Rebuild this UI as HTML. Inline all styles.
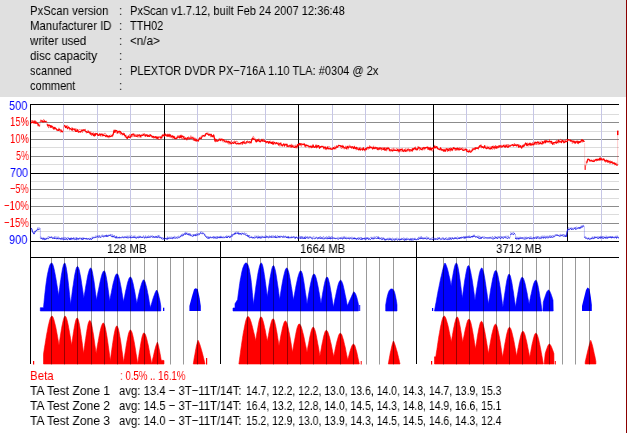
<!DOCTYPE html>
<html><head><meta charset="utf-8"><title>PxScan</title>
<style>
html,body{margin:0;padding:0;background:#fff}
body{width:627px;height:433px;position:relative;overflow:hidden;font-family:"Liberation Sans",sans-serif}
.hdr{position:absolute;left:0;top:0;width:627px;height:97px;background:#e0e0e0}
.edge{position:absolute;left:626px;top:0;width:1px;height:433px;background:#8b0000}
.t{position:absolute;white-space:pre;will-change:transform}
</style></head><body>
<div class="hdr"></div>
<svg width="627" height="433" viewBox="0 0 627 433" style="position:absolute;left:0;top:0" shape-rendering="auto"><rect x="30" y="114" width="589" height="1" fill="#dcdcdc"/>
<rect x="30" y="122" width="589" height="1" fill="#8c8c8c"/>
<rect x="30" y="131" width="589" height="1" fill="#dcdcdc"/>
<rect x="30" y="139" width="589" height="1" fill="#8c8c8c"/>
<rect x="30" y="147" width="589" height="1" fill="#dcdcdc"/>
<rect x="30" y="156" width="589" height="1" fill="#8c8c8c"/>
<rect x="30" y="164" width="589" height="1" fill="#dcdcdc"/>
<rect x="30" y="181" width="589" height="1" fill="#dcdcdc"/>
<rect x="30" y="189" width="589" height="1" fill="#8c8c8c"/>
<rect x="30" y="198" width="589" height="1" fill="#dcdcdc"/>
<rect x="30" y="206" width="589" height="1" fill="#8c8c8c"/>
<rect x="30" y="214" width="589" height="1" fill="#dcdcdc"/>
<rect x="30" y="223" width="589" height="1" fill="#8c8c8c"/>
<rect x="30" y="231" width="589" height="1" fill="#dcdcdc"/>
<rect x="63" y="105" width="1" height="136" fill="#c6c6e6"/>
<rect x="97" y="105" width="1" height="136" fill="#c6c6e6"/>
<rect x="130" y="105" width="1" height="136" fill="#c6c6e6"/>
<rect x="197" y="105" width="1" height="136" fill="#c6c6e6"/>
<rect x="231" y="105" width="1" height="136" fill="#c6c6e6"/>
<rect x="265" y="105" width="1" height="136" fill="#c6c6e6"/>
<rect x="332" y="105" width="1" height="136" fill="#c6c6e6"/>
<rect x="365" y="105" width="1" height="136" fill="#c6c6e6"/>
<rect x="399" y="105" width="1" height="136" fill="#c6c6e6"/>
<rect x="466" y="105" width="1" height="136" fill="#c6c6e6"/>
<rect x="500" y="105" width="1" height="136" fill="#c6c6e6"/>
<rect x="533" y="105" width="1" height="136" fill="#c6c6e6"/>
<rect x="601" y="105" width="1" height="136" fill="#c6c6e6"/>
<rect x="30" y="104" width="589" height="1" fill="#000"/>
<rect x="30" y="173" width="589" height="1" fill="#000"/>
<rect x="30" y="241" width="589" height="1" fill="#000"/>
<rect x="30" y="257" width="589" height="1" fill="#000"/>
<rect x="164" y="104" width="1" height="138" fill="#000"/>
<rect x="298" y="104" width="1" height="138" fill="#000"/>
<rect x="433" y="104" width="1" height="138" fill="#000"/>
<rect x="567" y="104" width="1" height="138" fill="#000"/>
<rect x="30" y="104" width="1" height="260" fill="#000"/>
<rect x="220" y="241" width="1" height="123" fill="#000"/>
<rect x="416" y="241" width="1" height="123" fill="#000"/>
<path fill="#0000ff" stroke="#0000ff" stroke-width="0.6" stroke-linejoin="round" d="M40.3,311.0 L40.3,307.7 L43.5,307.7 L44.0,302.3 L44.5,297.2 L45.0,292.5 L45.5,288.1 L46.0,284.1 L46.5,280.5 L47.0,277.1 L47.5,274.2 L48.1,271.6 L48.6,269.3 L49.1,267.4 L49.6,265.8 L50.1,264.6 L50.6,263.7 L51.1,263.2 L51.6,263.0 L52.1,263.3 L52.6,264.1 L53.1,265.3 L53.6,267.0 L54.1,269.1 L54.6,271.4 L55.1,274.0 L55.6,276.7 L56.1,279.6 L56.6,282.7 L57.1,285.8 L57.6,289.0 L58.1,292.3 L58.6,295.7 L59.1,291.4 L59.7,287.3 L60.2,283.2 L60.8,279.4 L61.3,275.7 L61.9,272.3 L62.4,269.3 L63.0,266.7 L63.5,264.7 L64.1,263.4 L64.6,263.0 L65.1,263.5 L65.6,264.8 L66.1,267.0 L66.6,269.8 L67.1,273.1 L67.6,276.9 L68.1,281.0 L68.6,285.4 L69.1,290.0 L69.6,294.7 L70.1,299.5 L70.6,304.5 L71.1,300.3 L71.7,296.2 L72.2,292.1 L72.7,288.2 L73.3,284.5 L73.8,280.9 L74.3,277.5 L74.8,274.5 L75.4,271.8 L75.9,269.5 L76.4,267.8 L77.0,266.8 L77.5,266.4 L78.0,266.8 L78.5,267.8 L79.1,269.4 L79.6,271.6 L80.1,274.2 L80.7,277.1 L81.2,280.2 L81.7,283.6 L82.2,287.1 L82.8,290.8 L83.3,294.5 L83.8,298.3 L84.3,295.0 L84.9,291.7 L85.4,288.5 L85.9,285.4 L86.5,282.4 L87.0,279.5 L87.5,276.8 L88.0,274.4 L88.6,272.3 L89.1,270.5 L89.6,269.1 L90.2,268.3 L90.7,268.0 L91.2,268.4 L91.8,269.7 L92.3,271.6 L92.8,274.2 L93.3,277.2 L93.9,280.5 L94.4,284.1 L94.9,287.9 L95.4,291.9 L96.0,296.0 L96.5,300.2 L97.0,297.4 L97.5,294.6 L98.0,291.9 L98.6,289.2 L99.1,286.7 L99.6,284.2 L100.1,281.8 L100.6,279.6 L101.1,277.5 L101.6,275.6 L102.1,274.0 L102.7,272.6 L103.2,271.6 L103.7,271.0 L104.2,270.8 L104.7,271.2 L105.2,272.4 L105.7,274.2 L106.2,276.6 L106.7,279.4 L107.2,282.5 L107.7,285.9 L108.2,289.4 L108.7,293.1 L109.2,297.0 L109.7,300.9 L110.2,298.1 L110.7,295.4 L111.3,292.7 L111.8,290.1 L112.3,287.5 L112.8,285.1 L113.3,282.8 L113.9,280.7 L114.4,278.7 L114.9,277.0 L115.4,275.6 L116.0,274.6 L116.5,273.9 L117.0,273.7 L117.5,274.0 L118.0,274.8 L118.5,276.0 L119.0,277.7 L119.5,279.6 L120.0,281.9 L120.5,284.4 L121.0,287.0 L121.5,289.8 L122.0,292.7 L122.5,295.7 L123.0,298.7 L123.5,301.8 L124.0,299.1 L124.6,296.4 L125.1,293.8 L125.6,291.2 L126.2,288.8 L126.7,286.4 L127.2,284.2 L127.7,282.2 L128.3,280.5 L128.8,279.0 L129.3,277.9 L129.9,277.2 L130.4,277.0 L130.9,277.3 L131.5,278.2 L132.0,279.5 L132.5,281.3 L133.1,283.5 L133.6,285.9 L134.1,288.5 L134.7,291.3 L135.2,294.2 L135.7,297.2 L136.3,300.3 L136.8,303.5 L137.3,301.1 L137.8,298.7 L138.3,296.3 L138.8,294.1 L139.3,291.9 L139.8,289.7 L140.4,287.7 L140.9,285.9 L141.4,284.2 L141.9,282.7 L142.4,281.5 L142.9,280.6 L143.4,280.0 L143.9,279.8 L144.4,280.5 L145.0,281.7 L145.5,283.3 L146.0,285.2 L146.6,287.4 L147.1,289.8 L147.6,292.4 L148.2,295.2 L148.7,298.1 L149.2,301.3 L149.8,304.5 L150.3,308.0 L150.8,306.1 L151.4,304.2 L151.9,302.4 L152.4,300.7 L152.9,299.0 L153.4,297.4 L154.0,295.8 L154.5,294.4 L155.0,293.1 L155.6,291.8 L156.1,290.8 L156.6,290.1 L157.1,290.7 L157.7,291.8 L158.2,293.4 L158.7,295.3 L159.2,297.6 L159.8,300.1 L160.3,302.9 L160.8,306.0 L160.8,311.0 Z"/>
<rect x="163" y="307.7" width="1.3" height="3.3" fill="#0000ff"/>
<path fill="#0000ff" d="M189.4,311 L189.4,306 L192.1,296 L194.1,289.2 L195.5,288.3 L197.7,289 L199.6,298 L200.8,306 L200.8,311 Z"/>
<rect x="33" y="361" width="1.2" height="3.5" fill="#ff0000"/>
<path fill="#ff0000" stroke="#ff0000" stroke-width="0.6" stroke-linejoin="round" d="M43.5,364.0 L43.5,354.2 L44.0,350.8 L44.5,347.4 L45.1,344.1 L45.6,340.8 L46.1,337.7 L46.6,334.6 L47.2,331.7 L47.7,328.9 L48.2,326.2 L48.8,323.8 L49.3,321.6 L49.8,319.7 L50.3,318.2 L50.9,317.0 L51.4,316.3 L51.9,316.1 L52.4,316.3 L52.9,317.0 L53.4,318.2 L53.9,319.7 L54.4,321.5 L54.9,323.6 L55.5,325.9 L56.0,328.3 L56.5,330.9 L57.0,333.6 L57.5,336.4 L58.0,339.3 L58.5,342.2 L59.0,345.2 L59.5,341.7 L60.0,338.3 L60.5,335.0 L61.0,331.8 L61.5,328.7 L62.0,325.9 L62.6,323.2 L63.1,320.9 L63.6,318.9 L64.1,317.4 L64.6,316.4 L65.1,316.1 L65.6,316.4 L66.1,317.2 L66.6,318.5 L67.1,320.2 L67.6,322.3 L68.1,324.6 L68.6,327.2 L69.1,329.9 L69.6,332.8 L70.1,335.8 L70.6,338.8 L71.1,342.0 L71.6,345.2 L72.1,341.7 L72.6,338.2 L73.1,334.8 L73.6,331.6 L74.1,328.6 L74.6,325.7 L75.1,323.2 L75.6,321.1 L76.1,319.4 L76.6,318.4 L77.1,318.0 L77.6,318.3 L78.1,319.3 L78.6,320.9 L79.1,323.0 L79.6,325.5 L80.1,328.4 L80.6,331.5 L81.1,334.9 L81.6,338.4 L82.1,342.0 L82.6,345.8 L83.1,349.7 L83.6,353.6 L84.1,349.6 L84.6,345.7 L85.1,342.0 L85.7,338.3 L86.2,334.8 L86.7,331.5 L87.2,328.5 L87.7,325.8 L88.2,323.6 L88.8,321.9 L89.3,320.8 L89.8,320.4 L90.3,320.8 L90.8,321.9 L91.4,323.6 L91.9,325.8 L92.4,328.5 L92.9,331.5 L93.5,334.8 L94.0,338.3 L94.5,342.0 L95.0,345.7 L95.6,349.6 L96.1,353.6 L96.6,350.5 L97.1,347.4 L97.6,344.4 L98.2,341.4 L98.7,338.6 L99.2,335.8 L99.7,333.3 L100.2,330.8 L100.7,328.7 L101.2,326.8 L101.8,325.2 L102.3,324.0 L102.8,323.3 L103.3,323.0 L103.8,323.3 L104.3,324.2 L104.8,325.7 L105.3,327.6 L105.8,330.0 L106.3,332.7 L106.8,335.6 L107.3,338.8 L107.8,342.2 L108.3,345.7 L108.8,349.3 L109.3,353.0 L109.8,356.8 L110.3,360.7 L110.8,356.9 L111.3,353.1 L111.8,349.4 L112.3,345.9 L112.8,342.4 L113.3,339.2 L113.8,336.1 L114.3,333.3 L114.8,330.9 L115.3,328.8 L115.8,327.3 L116.3,326.3 L116.8,326.0 L117.3,326.3 L117.8,327.4 L118.4,329.0 L118.9,331.2 L119.4,333.7 L119.9,336.7 L120.5,339.9 L121.0,343.3 L121.5,347.0 L122.0,350.7 L122.6,354.6 L123.1,358.6 L123.6,362.6 L124.1,359.0 L124.6,355.5 L125.2,352.0 L125.7,348.7 L126.2,345.5 L126.7,342.4 L127.3,339.5 L127.8,336.9 L128.3,334.6 L128.8,332.7 L129.4,331.2 L129.9,330.3 L130.4,330.0 L130.9,330.3 L131.4,331.1 L132.0,332.4 L132.5,334.2 L133.0,336.3 L133.5,338.7 L134.1,341.4 L134.6,344.3 L135.1,347.3 L135.6,350.5 L136.1,353.7 L136.7,357.1 L137.2,360.5 L137.7,364.0 L138.2,360.3 L138.7,356.6 L139.2,353.1 L139.8,349.7 L140.3,346.4 L140.8,343.3 L141.3,340.5 L141.8,338.0 L142.3,335.9 L142.9,334.3 L143.4,333.2 L143.9,332.9 L144.4,333.1 L144.9,333.8 L145.5,334.8 L146.0,336.3 L146.5,338.0 L147.0,340.0 L147.5,342.2 L148.1,344.5 L148.6,347.0 L149.1,349.7 L149.6,352.4 L150.1,355.2 L150.7,358.1 L151.2,361.0 L151.7,364.0 L152.2,361.5 L152.7,359.0 L153.3,356.6 L153.8,354.3 L154.3,352.1 L154.8,350.0 L155.3,348.1 L155.8,346.2 L156.4,344.6 L156.9,343.2 L157.4,342.2 L157.9,343.6 L158.5,345.7 L159.0,348.2 L159.6,350.9 L160.1,353.8 L160.7,356.9 L161.2,360.2 L164.0,360.5 L164.0,364.0 Z"/>
<path fill="#ff0000" stroke="#ff0000" stroke-width="0.6" stroke-linejoin="round" d="M193.3,364.0 L193.3,364.0 L193.8,360.6 L194.3,357.4 L194.9,354.3 L195.4,351.3 L195.9,348.6 L196.4,346.0 L197.0,343.7 L197.5,341.7 L198.0,340.3 L198.5,341.1 L199.0,342.2 L199.5,343.5 L200.0,345.0 L200.5,346.5 L201.0,348.2 L201.5,349.9 L202.0,351.7 L202.5,353.6 L203.0,355.6 L203.5,357.6 L204.0,359.7 L204.5,361.8 L205.0,364.0 L205.0,364.0 Z"/>
<rect x="206" y="358" width="1.2" height="6.5" fill="#ff0000"/>
<path fill="#0000ff" stroke="#0000ff" stroke-width="0.6" stroke-linejoin="round" d="M233.0,311.0 L233.0,308.0 L235.0,308.0 L235.0,303.8 L237.6,299.6 L238.1,295.2 L238.7,291.0 L239.2,287.2 L239.7,283.6 L240.2,280.3 L240.8,277.3 L241.3,274.6 L241.8,272.1 L242.3,270.0 L242.8,268.1 L243.4,266.6 L243.9,265.3 L244.4,264.3 L244.9,263.6 L245.5,263.1 L246.0,263.0 L246.5,263.1 L247.1,263.5 L247.6,264.2 L248.1,265.3 L248.6,266.9 L249.2,268.9 L249.7,271.5 L250.2,274.5 L250.8,278.1 L251.3,282.2 L251.8,286.9 L252.3,292.3 L252.9,298.2 L253.4,304.7 L253.9,300.7 L254.5,296.8 L255.0,292.9 L255.5,289.2 L256.0,285.5 L256.6,282.0 L257.1,278.6 L257.6,275.4 L258.1,272.5 L258.7,269.8 L259.2,267.5 L259.7,265.6 L260.2,264.2 L260.8,263.3 L261.3,263.0 L261.8,263.4 L262.3,264.5 L262.8,266.2 L263.3,268.6 L263.8,271.3 L264.3,274.4 L264.8,277.8 L265.3,281.3 L265.8,285.1 L266.3,289.0 L266.8,292.9 L267.3,297.0 L267.8,293.2 L268.3,289.6 L268.8,286.0 L269.3,282.5 L269.8,279.2 L270.4,276.1 L270.9,273.3 L271.4,270.7 L271.9,268.6 L272.4,267.0 L272.9,266.0 L273.4,265.6 L273.9,266.0 L274.4,267.1 L274.9,268.8 L275.5,271.2 L276.0,273.9 L276.5,277.0 L277.0,280.4 L277.5,283.9 L278.1,287.7 L278.6,291.6 L279.1,295.5 L279.6,299.6 L280.1,296.4 L280.6,293.2 L281.1,290.1 L281.6,287.0 L282.1,284.1 L282.6,281.3 L283.1,278.6 L283.7,276.1 L284.2,273.9 L284.7,271.9 L285.2,270.2 L285.7,269.0 L286.2,268.3 L286.7,268.0 L287.2,268.3 L287.7,269.2 L288.2,270.6 L288.8,272.5 L289.3,274.8 L289.8,277.4 L290.3,280.2 L290.8,283.3 L291.3,286.4 L291.9,289.7 L292.4,293.2 L292.9,296.6 L293.4,300.2 L293.9,297.2 L294.5,294.2 L295.0,291.3 L295.5,288.5 L296.0,285.8 L296.6,283.1 L297.1,280.7 L297.6,278.3 L298.2,276.2 L298.7,274.4 L299.2,272.9 L299.7,271.8 L300.3,271.0 L300.8,270.8 L301.3,271.2 L301.8,272.3 L302.4,274.0 L302.9,276.2 L303.4,278.9 L303.9,281.9 L304.4,285.2 L304.9,288.7 L305.4,292.4 L306.0,296.1 L306.5,300.0 L307.0,304.0 L307.5,300.9 L308.0,297.9 L308.5,294.9 L309.0,292.1 L309.5,289.3 L310.0,286.6 L310.5,284.1 L311.0,281.7 L311.5,279.6 L312.0,277.7 L312.5,276.1 L313.0,275.0 L313.5,274.2 L314.0,274.0 L314.5,274.2 L315.0,275.0 L315.5,276.1 L316.0,277.6 L316.5,279.4 L317.0,281.5 L317.5,283.9 L318.0,286.3 L318.5,289.0 L319.0,291.7 L319.5,294.5 L320.0,297.4 L320.5,300.4 L321.0,303.4 L321.5,300.2 L322.0,297.2 L322.5,294.1 L323.0,291.2 L323.5,288.5 L324.0,285.8 L324.5,283.4 L325.0,281.3 L325.5,279.5 L326.0,278.2 L326.5,277.3 L327.0,277.0 L327.5,277.3 L328.1,278.3 L328.6,279.9 L329.1,281.9 L329.7,284.4 L330.2,287.2 L330.7,290.2 L331.3,293.3 L331.8,296.7 L332.3,300.1 L332.9,303.7 L333.4,307.3 L333.9,304.5 L334.4,301.8 L334.9,299.1 L335.5,296.5 L336.0,294.0 L336.5,291.6 L337.0,289.3 L337.5,287.2 L338.0,285.2 L338.5,283.5 L339.1,282.1 L339.6,281.1 L340.1,280.4 L340.6,280.2 L341.1,280.4 L341.6,281.2 L342.1,282.3 L342.7,283.8 L343.2,285.6 L343.7,287.7 L344.2,289.9 L344.7,292.3 L345.2,294.9 L345.8,297.5 L346.3,300.2 L346.8,303.0 L347.3,305.8 L347.8,304.6 L348.4,303.5 L348.9,302.3 L349.4,301.1 L349.9,300.0 L350.5,298.8 L351.0,297.6 L351.5,296.5 L352.0,295.3 L352.6,294.1 L353.1,293.0 L353.6,291.8 L354.1,292.0 L354.7,292.5 L355.2,293.3 L355.8,294.4 L356.3,295.9 L356.9,297.7 L357.4,299.8 L358.0,302.2 L358.5,305.0 L358.5,311.0 Z"/>
<rect x="359.2" y="305" width="1" height="6" fill="#0000ff"/>
<path fill="#0000ff" stroke="#0000ff" stroke-width="0.6" stroke-linejoin="round" d="M385.7,311.0 L385.7,305.0 L386.2,301.9 L386.7,299.1 L387.2,296.7 L387.7,294.7 L388.2,293.1 L388.7,291.7 L389.2,290.7 L389.7,289.9 L390.2,289.4 L390.7,289.1 L391.2,288.9 L391.7,288.9 L392.2,289.0 L392.8,289.2 L393.3,289.7 L393.8,290.5 L394.4,291.7 L394.9,293.4 L395.4,295.5 L395.9,298.1 L396.5,301.3 L397.0,305.0 L397.0,311.0 Z"/>
<path fill="#ff0000" stroke="#ff0000" stroke-width="0.6" stroke-linejoin="round" d="M238.9,364.0 L238.9,364.0 L239.4,360.2 L239.9,356.5 L240.4,352.8 L240.9,349.1 L241.4,345.6 L241.9,342.1 L242.4,338.8 L242.9,335.5 L243.4,332.4 L244.0,329.5 L244.5,326.8 L245.0,324.3 L245.5,322.0 L246.0,320.1 L246.5,318.6 L247.0,317.4 L247.5,316.7 L248.0,316.5 L248.5,316.7 L249.0,317.2 L249.5,318.0 L250.1,319.1 L250.6,320.5 L251.1,322.0 L251.6,323.7 L252.1,325.5 L252.6,327.5 L253.1,329.6 L253.6,331.7 L254.2,333.9 L254.7,336.1 L255.2,338.4 L255.7,340.7 L256.2,337.3 L256.7,333.9 L257.3,330.7 L257.8,327.7 L258.3,324.8 L258.8,322.2 L259.3,320.0 L259.9,318.3 L260.4,317.2 L260.9,316.8 L261.4,317.1 L262.0,317.9 L262.5,319.1 L263.0,320.8 L263.6,322.8 L264.1,325.0 L264.6,327.4 L265.2,330.0 L265.7,332.7 L266.2,335.5 L266.8,338.4 L267.3,341.3 L267.8,338.4 L268.4,335.5 L268.9,332.7 L269.4,330.0 L269.9,327.5 L270.5,325.1 L271.0,323.0 L271.5,321.2 L272.0,319.9 L272.6,319.0 L273.1,318.7 L273.6,319.1 L274.2,320.1 L274.7,321.7 L275.2,323.9 L275.8,326.4 L276.3,329.2 L276.9,332.3 L277.4,335.5 L277.9,338.8 L278.5,342.3 L279.0,345.8 L279.5,342.8 L280.1,339.9 L280.6,337.1 L281.1,334.3 L281.7,331.7 L282.2,329.2 L282.7,327.0 L283.3,325.0 L283.8,323.3 L284.3,322.0 L284.9,321.2 L285.4,320.9 L285.9,321.2 L286.4,321.9 L286.9,323.1 L287.4,324.8 L287.9,326.7 L288.4,329.0 L288.9,331.4 L289.5,334.1 L290.0,336.9 L290.5,339.8 L291.0,342.8 L291.5,345.9 L292.0,349.1 L292.5,352.3 L293.0,349.2 L293.5,346.1 L294.0,343.1 L294.6,340.2 L295.1,337.4 L295.6,334.7 L296.1,332.2 L296.6,329.9 L297.1,327.9 L297.7,326.2 L298.2,325.0 L298.7,324.2 L299.2,323.9 L299.7,324.1 L300.2,324.7 L300.8,325.7 L301.3,327.0 L301.8,328.5 L302.3,330.3 L302.8,332.4 L303.4,334.5 L303.9,336.8 L304.4,339.2 L304.9,341.7 L305.4,344.3 L306.0,346.9 L306.5,349.6 L307.0,352.3 L307.5,349.3 L308.0,346.3 L308.6,343.5 L309.1,340.7 L309.6,338.0 L310.1,335.5 L310.6,333.3 L311.1,331.2 L311.6,329.5 L312.2,328.2 L312.7,327.4 L313.2,327.1 L313.7,327.4 L314.2,328.2 L314.7,329.5 L315.3,331.2 L315.8,333.3 L316.3,335.6 L316.8,338.2 L317.3,340.9 L317.8,343.8 L318.4,346.8 L318.9,349.8 L319.4,353.0 L319.9,356.2 L320.4,353.1 L321.0,350.1 L321.5,347.1 L322.0,344.3 L322.6,341.5 L323.1,339.0 L323.6,336.6 L324.2,334.5 L324.7,332.8 L325.2,331.4 L325.8,330.6 L326.3,330.3 L326.8,330.5 L327.4,331.2 L327.9,332.2 L328.4,333.6 L328.9,335.2 L329.5,337.1 L330.0,339.2 L330.5,341.4 L331.1,343.8 L331.6,346.2 L332.1,348.8 L332.6,351.4 L333.2,354.1 L333.7,356.8 L334.2,354.2 L334.7,351.6 L335.2,349.1 L335.7,346.7 L336.2,344.4 L336.7,342.2 L337.3,340.1 L337.8,338.2 L338.3,336.5 L338.8,335.1 L339.3,334.1 L339.8,333.4 L340.3,333.2 L340.8,333.4 L341.4,334.1 L341.9,335.1 L342.4,336.5 L342.9,338.2 L343.5,340.1 L344.0,342.2 L344.5,344.4 L345.1,346.8 L345.6,349.3 L346.1,351.9 L346.6,354.5 L347.2,357.3 L347.7,360.0 L348.2,357.9 L348.8,355.9 L349.3,353.9 L349.8,352.1 L350.3,350.3 L350.9,348.6 L351.4,347.1 L351.9,345.9 L352.4,344.9 L353.0,344.3 L353.5,344.1 L354.0,344.4 L354.6,345.1 L355.1,346.3 L355.6,347.9 L356.1,349.8 L356.7,351.8 L357.2,354.1 L357.7,356.4 L358.2,358.9 L358.8,361.4 L359.3,364.0 L359.3,364.0 Z"/>
<rect x="360.7" y="361" width="1" height="3.5" fill="#ff0000"/>
<path fill="#ff0000" stroke="#ff0000" stroke-width="0.6" stroke-linejoin="round" d="M388.3,364.0 L388.3,364.0 L388.8,361.1 L389.3,358.2 L389.8,355.5 L390.3,352.8 L390.9,350.3 L391.4,348.0 L391.9,345.8 L392.4,343.8 L392.9,342.2 L393.4,341.0 L393.9,341.8 L394.4,343.0 L394.9,344.4 L395.4,346.0 L395.9,347.6 L396.4,349.4 L397.0,351.3 L397.5,353.2 L398.0,355.3 L398.5,357.4 L399.0,359.5 L399.5,361.7 L400.0,364.0 L400.0,364.0 Z"/>
<rect x="432" y="308" width="1.2" height="3" fill="#0000ff"/>
<path fill="#0000ff" stroke="#0000ff" stroke-width="0.6" stroke-linejoin="round" d="M434.5,311.0 L434.5,311.0 L435.0,308.0 L435.5,305.1 L436.1,302.2 L436.6,299.3 L437.1,296.5 L437.6,293.7 L438.1,291.0 L438.7,288.3 L439.2,285.7 L439.7,283.2 L440.2,280.7 L440.7,278.3 L441.3,275.9 L441.8,273.7 L442.3,271.5 L442.8,269.4 L443.3,267.5 L443.9,265.7 L444.4,264.1 L444.9,263.0 L445.4,263.5 L445.9,264.5 L446.4,265.8 L447.0,267.4 L447.5,269.1 L448.0,271.0 L448.5,273.1 L449.0,275.4 L449.6,277.7 L450.1,280.3 L450.6,282.9 L451.1,285.7 L451.6,282.5 L452.1,279.3 L452.7,276.2 L453.2,273.3 L453.7,270.6 L454.2,268.2 L454.7,266.1 L455.3,264.4 L455.8,263.4 L456.3,263.0 L456.8,263.4 L457.3,264.5 L457.8,266.4 L458.3,268.8 L458.8,271.6 L459.3,274.8 L459.8,278.3 L460.3,282.0 L460.8,285.9 L461.3,289.9 L461.8,294.1 L462.3,298.3 L462.8,294.4 L463.3,290.6 L463.8,286.8 L464.3,283.2 L464.8,279.8 L465.4,276.6 L465.9,273.6 L466.4,270.9 L466.9,268.7 L467.4,267.0 L467.9,266.0 L468.4,265.6 L468.9,265.9 L469.4,266.9 L469.9,268.4 L470.4,270.5 L470.9,272.9 L471.4,275.7 L472.0,278.7 L472.5,282.0 L473.0,285.4 L473.5,289.0 L474.0,292.6 L474.5,296.4 L475.0,300.2 L475.5,296.6 L476.0,293.2 L476.5,289.7 L477.1,286.4 L477.6,283.3 L478.1,280.2 L478.6,277.4 L479.1,274.8 L479.6,272.5 L480.2,270.6 L480.7,269.2 L481.2,268.3 L481.7,268.0 L482.2,268.3 L482.7,269.4 L483.2,271.0 L483.8,273.1 L484.3,275.6 L484.8,278.5 L485.3,281.7 L485.8,285.1 L486.3,288.7 L486.9,292.4 L487.4,296.2 L487.9,300.1 L488.4,304.1 L488.9,300.7 L489.5,297.3 L490.0,293.9 L490.5,290.7 L491.0,287.6 L491.6,284.6 L492.1,281.8 L492.6,279.1 L493.2,276.7 L493.7,274.6 L494.2,272.9 L494.7,271.6 L495.3,270.8 L495.8,270.5 L496.3,270.8 L496.8,271.7 L497.3,273.1 L497.8,275.0 L498.3,277.3 L498.8,279.9 L499.4,282.8 L499.9,285.9 L500.4,289.2 L500.9,292.6 L501.4,296.2 L501.9,299.8 L502.4,303.5 L502.9,307.3 L503.4,303.3 L503.9,299.4 L504.4,295.7 L505.0,292.0 L505.5,288.5 L506.0,285.2 L506.5,282.2 L507.0,279.5 L507.6,277.3 L508.1,275.6 L508.6,274.5 L509.1,274.1 L509.6,274.5 L510.2,275.6 L510.7,277.3 L511.2,279.5 L511.8,282.2 L512.3,285.2 L512.8,288.5 L513.4,292.0 L513.9,295.7 L514.4,299.4 L515.0,303.3 L515.5,307.3 L516.0,304.0 L516.5,300.7 L517.0,297.5 L517.6,294.4 L518.1,291.5 L518.6,288.6 L519.1,286.0 L519.6,283.6 L520.1,281.4 L520.7,279.7 L521.2,278.3 L521.7,277.5 L522.2,277.2 L522.7,277.5 L523.3,278.2 L523.8,279.4 L524.3,281.0 L524.9,282.9 L525.4,285.1 L525.9,287.4 L526.4,289.9 L527.0,292.6 L527.5,295.4 L528.0,298.2 L528.6,301.1 L529.1,304.1 L529.6,301.5 L530.1,298.9 L530.6,296.3 L531.2,293.9 L531.7,291.5 L532.2,289.3 L532.7,287.2 L533.2,285.3 L533.7,283.6 L534.3,282.2 L534.8,281.1 L535.3,280.4 L535.8,280.2 L536.3,280.5 L536.8,281.5 L537.3,283.1 L537.9,285.2 L538.4,287.7 L538.9,290.5 L539.4,293.6 L539.9,296.8 L540.5,300.2 L541.0,303.7 L541.5,307.3 L542.0,311.0 L542.0,311.0 Z"/>
<path fill="#0000ff" stroke="#0000ff" stroke-width="0.6" stroke-linejoin="round" d="M542.9,311.0 L542.9,311.0 L543.3,302.2 L543.8,300.5 L544.3,298.8 L544.9,297.2 L545.4,295.6 L545.9,294.2 L546.4,292.8 L546.9,291.7 L547.5,290.9 L548.0,290.3 L548.5,290.1 L549.0,290.3 L549.5,290.9 L550.0,291.7 L550.5,292.9 L551.0,294.1 L551.5,295.5 L552.0,297.0 L552.5,298.6 L553.0,300.2 L553.2,311.0 L553.2,311.0 Z"/>
<path fill="#0000ff" d="M582,311 L582,306 L584,298 L586,290 L587.5,287.5 L589.5,289 L590.8,297 L591.8,305 L591.8,311 Z"/>
<rect x="431" y="361" width="1.2" height="3.5" fill="#ff0000"/>
<path fill="#ff0000" stroke="#ff0000" stroke-width="0.6" stroke-linejoin="round" d="M434.5,364.0 L434.5,356.8 L435.8,356.8 L436.3,353.1 L436.9,349.5 L437.4,346.0 L437.9,342.5 L438.4,339.2 L438.9,335.9 L439.5,332.7 L440.0,329.7 L440.5,326.9 L441.1,324.3 L441.6,322.0 L442.1,320.0 L442.6,318.3 L443.1,317.1 L443.7,316.4 L444.2,316.1 L444.7,316.3 L445.2,316.9 L445.7,317.9 L446.2,319.3 L446.7,320.9 L447.2,322.7 L447.8,324.8 L448.3,327.0 L448.8,329.3 L449.3,331.7 L449.8,334.2 L450.3,336.7 L450.8,339.3 L451.3,342.0 L451.8,338.7 L452.4,335.6 L452.9,332.5 L453.4,329.5 L454.0,326.7 L454.5,324.1 L455.1,321.8 L455.6,319.8 L456.1,318.3 L456.7,317.3 L457.2,317.0 L457.7,317.3 L458.2,318.3 L458.7,319.8 L459.2,321.8 L459.7,324.2 L460.2,326.8 L460.7,329.7 L461.2,332.7 L461.7,335.8 L462.2,339.0 L462.7,342.3 L463.2,339.5 L463.8,336.8 L464.3,334.2 L464.8,331.6 L465.3,329.2 L465.9,326.9 L466.4,324.8 L466.9,322.9 L467.4,321.3 L467.9,320.1 L468.5,319.4 L469.0,319.1 L469.5,319.4 L470.0,320.2 L470.5,321.6 L471.0,323.3 L471.5,325.4 L472.0,327.8 L472.5,330.5 L473.0,333.3 L473.5,336.2 L474.0,339.3 L474.5,342.5 L475.0,345.7 L475.5,349.0 L476.0,345.4 L476.6,341.9 L477.1,338.4 L477.6,335.2 L478.2,332.1 L478.7,329.2 L479.3,326.6 L479.8,324.4 L480.3,322.7 L480.9,321.7 L481.4,321.3 L481.9,321.6 L482.4,322.3 L482.9,323.6 L483.4,325.3 L483.9,327.3 L484.4,329.6 L484.9,332.1 L485.4,334.9 L485.9,337.7 L486.4,340.7 L486.9,343.8 L487.4,347.0 L487.9,350.3 L488.4,353.6 L488.9,350.6 L489.4,347.6 L489.9,344.7 L490.4,341.9 L490.9,339.2 L491.4,336.5 L491.9,334.1 L492.5,331.7 L493.0,329.6 L493.5,327.8 L494.0,326.3 L494.5,325.2 L495.0,324.4 L495.5,324.2 L496.0,324.5 L496.5,325.3 L497.0,326.6 L497.5,328.3 L498.0,330.4 L498.5,332.7 L499.1,335.4 L499.6,338.2 L500.1,341.1 L500.6,344.2 L501.1,347.4 L501.6,350.7 L502.1,354.1 L502.6,357.5 L503.1,354.2 L503.7,350.9 L504.2,347.7 L504.7,344.6 L505.3,341.6 L505.8,338.8 L506.3,336.1 L506.8,333.7 L507.4,331.6 L507.9,329.8 L508.4,328.4 L509.0,327.6 L509.5,327.3 L510.0,327.5 L510.5,328.2 L511.0,329.4 L511.5,330.8 L512.0,332.7 L512.5,334.7 L513.0,337.0 L513.6,339.4 L514.1,342.0 L514.6,344.7 L515.1,347.5 L515.6,350.3 L516.1,353.2 L516.6,356.2 L517.1,353.2 L517.6,350.3 L518.2,347.4 L518.7,344.7 L519.2,342.1 L519.8,339.6 L520.3,337.3 L520.8,335.3 L521.3,333.6 L521.9,332.3 L522.4,331.5 L522.9,331.2 L523.4,331.5 L523.9,332.2 L524.5,333.4 L525.0,334.9 L525.5,336.8 L526.0,338.9 L526.6,341.2 L527.1,343.7 L527.6,346.3 L528.1,349.0 L528.7,351.7 L529.2,354.6 L529.7,357.5 L530.2,354.6 L530.7,351.8 L531.2,349.0 L531.7,346.3 L532.2,343.7 L532.8,341.3 L533.3,339.1 L533.8,337.2 L534.3,335.5 L534.8,334.3 L535.3,333.5 L535.8,333.2 L536.3,333.4 L536.8,334.1 L537.3,335.1 L537.8,336.5 L538.3,338.2 L538.8,340.2 L539.3,342.4 L539.8,344.7 L540.3,347.2 L540.8,349.8 L541.3,352.5 L541.8,355.3 L542.3,358.1 L542.8,361.0 L543.3,364.0 L543.3,364.0 Z"/>
<path fill="#ff0000" stroke="#ff0000" stroke-width="0.6" stroke-linejoin="round" d="M544.2,364.0 L544.2,364.0 L545.2,353.6 L545.7,351.9 L546.2,350.3 L546.8,348.7 L547.3,347.3 L547.8,346.0 L548.4,345.0 L548.9,344.3 L549.4,344.1 L549.9,344.3 L550.4,344.8 L550.9,345.7 L551.4,346.7 L551.9,347.9 L552.4,349.2 L552.9,350.6 L553.4,352.1 L553.9,353.6 L554.0,364.0 L554.0,364.0 Z"/>
<rect x="554.8" y="361" width="1" height="3.5" fill="#ff0000"/>
<path fill="#ff0000" stroke="#ff0000" stroke-width="0.6" stroke-linejoin="round" d="M585.2,364.0 L585.2,362.0 L585.7,359.7 L586.2,357.5 L586.7,355.3 L587.2,353.2 L587.7,351.1 L588.2,349.1 L588.7,347.1 L589.2,345.2 L589.7,343.4 L590.2,341.7 L590.7,340.3 L591.2,341.5 L591.7,343.1 L592.3,345.0 L592.8,347.0 L593.3,349.2 L593.8,351.5 L594.3,353.9 L594.9,356.3 L595.4,358.9 L595.9,361.5 L595.9,364.0 Z"/>
<rect x="51" y="258" width="1" height="106.5" fill="rgba(0,0,0,0.4)"/>
<rect x="64" y="258" width="1" height="106.5" fill="rgba(0,0,0,0.4)"/>
<rect x="77" y="258" width="1" height="106.5" fill="rgba(0,0,0,0.4)"/>
<rect x="91" y="258" width="1" height="106.5" fill="rgba(0,0,0,0.4)"/>
<rect x="104" y="258" width="1" height="106.5" fill="rgba(0,0,0,0.4)"/>
<rect x="117" y="258" width="1" height="106.5" fill="rgba(0,0,0,0.4)"/>
<rect x="130" y="258" width="1" height="106.5" fill="rgba(0,0,0,0.4)"/>
<rect x="144" y="258" width="1" height="106.5" fill="rgba(0,0,0,0.4)"/>
<rect x="157" y="258" width="1" height="106.5" fill="rgba(0,0,0,0.4)"/>
<rect x="170" y="258" width="1" height="106.5" fill="rgba(0,0,0,0.4)"/>
<rect x="183" y="258" width="1" height="106.5" fill="rgba(0,0,0,0.4)"/>
<rect x="197" y="258" width="1" height="106.5" fill="rgba(0,0,0,0.4)"/>
<rect x="247" y="258" width="1" height="106.5" fill="rgba(0,0,0,0.4)"/>
<rect x="260" y="258" width="1" height="106.5" fill="rgba(0,0,0,0.4)"/>
<rect x="273" y="258" width="1" height="106.5" fill="rgba(0,0,0,0.4)"/>
<rect x="287" y="258" width="1" height="106.5" fill="rgba(0,0,0,0.4)"/>
<rect x="300" y="258" width="1" height="106.5" fill="rgba(0,0,0,0.4)"/>
<rect x="313" y="258" width="1" height="106.5" fill="rgba(0,0,0,0.4)"/>
<rect x="326" y="258" width="1" height="106.5" fill="rgba(0,0,0,0.4)"/>
<rect x="340" y="258" width="1" height="106.5" fill="rgba(0,0,0,0.4)"/>
<rect x="353" y="258" width="1" height="106.5" fill="rgba(0,0,0,0.4)"/>
<rect x="366" y="258" width="1" height="106.5" fill="rgba(0,0,0,0.4)"/>
<rect x="379" y="258" width="1" height="106.5" fill="rgba(0,0,0,0.4)"/>
<rect x="393" y="258" width="1" height="106.5" fill="rgba(0,0,0,0.4)"/>
<rect x="443" y="258" width="1" height="106.5" fill="rgba(0,0,0,0.4)"/>
<rect x="456" y="258" width="1" height="106.5" fill="rgba(0,0,0,0.4)"/>
<rect x="469" y="258" width="1" height="106.5" fill="rgba(0,0,0,0.4)"/>
<rect x="483" y="258" width="1" height="106.5" fill="rgba(0,0,0,0.4)"/>
<rect x="496" y="258" width="1" height="106.5" fill="rgba(0,0,0,0.4)"/>
<rect x="509" y="258" width="1" height="106.5" fill="rgba(0,0,0,0.4)"/>
<rect x="522" y="258" width="1" height="106.5" fill="rgba(0,0,0,0.4)"/>
<rect x="536" y="258" width="1" height="106.5" fill="rgba(0,0,0,0.4)"/>
<rect x="549" y="258" width="1" height="106.5" fill="rgba(0,0,0,0.4)"/>
<rect x="562" y="258" width="1" height="106.5" fill="rgba(0,0,0,0.4)"/>
<rect x="575" y="258" width="1" height="106.5" fill="rgba(0,0,0,0.4)"/>
<rect x="589" y="258" width="1" height="106.5" fill="rgba(0,0,0,0.4)"/>
<rect x="39.5" y="121" width="0.9" height="5.4" fill="#ff0000" fill-opacity="0.3"/>
<rect x="46.6" y="121.6" width="0.9" height="3.8" fill="#ff0000" fill-opacity="0.3"/>
<rect x="63" y="126.4" width="0.9" height="4.7" fill="#ff0000" fill-opacity="0.3"/>
<path fill="none" stroke="#ff0000" stroke-opacity="0.45" stroke-width="0.9" stroke-linejoin="round" d="M30.9,120.8 L31.4,120.2 L32.0,122.5 L32.5,120.0 L33.0,122.2 L33.6,121.5 L34.1,120.3 L34.6,122.3 L35.2,120.4 L35.7,122.2 L36.2,121.2 L36.8,121.8 L37.3,123.8 L37.9,126.2 L38.4,123.6 L39.0,124.6 L39.5,126.4"/>
<path fill="none" stroke="#ff0000" stroke-opacity="1" stroke-width="1.2" stroke-linejoin="round" d="M30.9,121.9 L31.7,122.8 L32.5,122.1 L33.3,121.8 L34.1,123.3 L34.9,121.3 L35.7,123.4 L36.5,122.8 L37.2,123.2 L38.0,123.9 L38.7,125.2 L39.5,126.4"/>
<path fill="none" stroke="#ff0000" stroke-opacity="0.45" stroke-width="0.9" stroke-linejoin="round" d="M40.4,122.4 L40.9,119.6 L41.4,121.5 L42.0,121.8 L42.5,120.6 L43.0,121.5 L43.5,119.4 L44.0,119.4 L44.5,120.1 L45.0,122.2 L45.6,121.2 L46.1,120.7 L46.6,121.6"/>
<path fill="none" stroke="#ff0000" stroke-opacity="1" stroke-width="1.2" stroke-linejoin="round" d="M40.4,121.2 L41.2,121.0 L42.0,120.7 L42.7,121.9 L43.5,121.8 L44.3,120.8 L45.0,121.6 L45.8,121.6 L46.6,121.6"/>
<path fill="none" stroke="#ff0000" stroke-opacity="0.45" stroke-width="0.9" stroke-linejoin="round" d="M47.1,127.1 L47.6,126.6 L48.1,124.9 L48.6,128.1 L49.2,124.5 L49.7,126.0 L50.2,127.7 L50.7,125.2 L51.2,126.9 L51.7,125.1 L52.2,128.1 L52.7,128.7 L53.3,128.0 L53.8,129.6 L54.3,127.3 L54.8,129.2 L55.3,128.9 L55.8,129.0 L56.3,128.6 L56.8,130.5 L57.4,131.1 L57.9,129.2 L58.4,130.2 L58.9,127.8 L59.4,130.8 L59.9,130.7 L60.4,132.4 L61.0,131.8 L61.5,129.6 L62.0,130.2 L62.5,131.7 L63.0,131.1"/>
<path fill="none" stroke="#ff0000" stroke-opacity="1" stroke-width="1.2" stroke-linejoin="round" d="M47.1,124.3 L47.9,125.6 L48.6,125.2 L49.4,125.4 L50.2,125.5 L51.0,127.5 L51.7,126.3 L52.5,126.8 L53.3,127.5 L54.0,128.9 L54.8,127.3 L55.5,128.4 L56.3,128.9 L57.0,130.0 L57.8,130.1 L58.5,130.4 L59.3,129.3 L60.0,129.9 L60.8,130.0 L61.5,131.5 L62.3,131.9 L63.0,131.1"/>
<path fill="none" stroke="#ff0000" stroke-opacity="0.45" stroke-width="0.9" stroke-linejoin="round" d="M64.0,124.9 L64.5,125.2 L65.0,125.6 L65.5,125.8 L66.0,127.0 L66.5,127.7 L67.0,126.4 L67.5,125.4 L68.0,127.4 L68.5,127.4 L69.0,128.4 L69.5,130.3 L70.0,129.3 L70.5,128.7 L71.0,129.4 L71.5,129.8 L72.0,127.2 L72.5,131.1 L73.0,130.8 L73.5,131.3 L74.1,131.2 L74.6,129.6 L75.1,129.8 L75.6,128.6 L76.1,131.1 L76.6,128.8 L77.1,129.0 L77.6,129.8 L78.2,129.7 L78.7,130.7 L79.2,129.6 L79.7,129.5 L80.2,130.1 L80.7,129.7 L81.3,130.8 L81.8,129.2 L82.3,132.8 L82.8,131.6 L83.3,129.5 L83.8,129.8 L84.4,130.1 L84.9,130.1 L85.4,128.9 L85.9,132.4 L86.4,133.3 L86.9,131.3 L87.4,131.6 L87.9,130.1 L88.4,130.4 L88.9,131.8 L89.5,131.7 L90.0,134.4 L90.5,131.8 L91.0,131.4 L91.5,135.8 L92.0,134.2 L92.5,132.8 L93.0,134.8 L93.5,132.5 L94.0,134.7 L94.5,136.7 L95.1,136.1 L95.6,135.4 L96.1,133.5 L96.6,133.9 L97.1,133.0 L97.6,135.7 L98.1,134.6 L98.6,135.7 L99.2,133.7 L99.7,133.2 L100.2,135.8 L100.7,136.5 L101.2,136.0 L101.7,135.9 L102.2,136.1 L102.7,135.8 L103.2,133.7 L103.7,135.0 L104.2,134.4 L104.7,133.1 L105.2,133.1 L105.7,134.3 L106.2,134.3 L106.7,136.3 L107.2,137.6 L107.7,135.4 L108.2,137.7 L108.7,138.0 L109.2,138.0 L109.7,135.4 L110.2,134.9 L110.7,135.0 L111.2,135.0 L111.7,135.1 L112.2,137.0 L112.8,136.5 L113.5,134.4 L114.1,131.0 L114.6,131.9 L115.1,132.7 L115.6,129.7 L116.2,132.3 L116.7,133.5 L117.2,133.1 L117.7,133.1 L118.2,132.0 L118.7,130.8 L119.2,133.6 L119.7,131.8 L120.3,133.9 L120.8,134.8 L121.3,132.4 L121.8,132.6 L122.3,135.4 L122.8,134.8 L123.4,132.8 L123.9,133.0 L124.4,133.5 L124.9,137.2 L125.4,137.2 L125.9,134.7 L126.5,138.1 L127.0,139.2 L127.5,138.2 L128.0,136.6 L128.6,137.2 L129.1,135.0 L129.6,134.3 L130.2,138.2 L130.7,136.5 L131.2,135.7 L131.8,137.2 L132.3,134.7 L132.8,136.7 L133.3,136.6 L133.8,133.9 L134.4,134.2 L134.9,134.4 L135.4,134.3 L135.9,135.9 L136.4,134.5 L136.9,135.3 L137.5,134.1 L138.0,137.6 L138.5,135.2 L139.0,135.7 L139.5,136.2 L140.0,137.6 L140.5,135.4 L141.0,137.6 L141.6,135.7 L142.1,135.8 L142.6,135.8 L143.1,133.5 L143.6,135.3 L144.1,134.2 L144.6,133.3 L145.1,136.8 L145.7,134.0 L146.2,135.3 L146.7,136.4 L147.2,135.6 L147.7,134.5 L148.2,135.5 L148.7,135.8 L149.3,136.9 L149.8,134.1 L150.3,136.2 L150.8,135.0 L151.3,135.2 L151.8,137.6 L152.4,136.5 L152.9,136.9 L153.4,137.9 L153.9,138.7 L154.4,136.8 L155.0,137.6 L155.5,137.3 L156.0,137.5 L156.5,138.4 L157.0,137.5 L157.5,138.0 L158.1,137.8 L158.6,140.0 L159.1,139.1 L159.6,139.5 L160.2,139.5 L160.7,136.2 L161.2,137.2 L161.8,138.5 L162.3,137.8 L162.8,134.3 L163.4,134.0 L163.9,135.0 L164.4,133.4 L165.0,134.2 L165.5,133.4 L166.0,136.0 L166.5,136.5 L167.1,137.0 L167.6,133.8 L168.1,136.3 L168.6,136.0 L169.2,133.7 L169.7,137.0 L170.2,137.6 L170.7,134.6 L171.3,138.1 L171.8,135.9 L172.3,136.6 L172.8,139.0 L173.3,138.6 L173.8,135.9 L174.4,137.4 L174.9,138.0 L175.4,137.5 L175.9,136.7 L176.4,137.1 L177.0,138.7 L177.5,135.5 L178.0,137.7 L178.5,137.0 L179.0,135.0 L179.5,136.2 L180.1,137.4 L180.6,136.7 L181.1,134.6 L181.6,138.9 L182.2,138.3 L182.7,139.3 L183.2,135.8 L183.8,136.7 L184.3,136.0 L184.8,139.5 L185.4,137.5 L185.9,137.2 L186.4,138.3 L187.0,140.3 L187.5,139.8 L188.0,137.2 L188.6,136.5 L189.1,139.8 L189.6,138.1 L190.2,138.5 L190.7,135.7 L191.2,135.8 L191.7,138.8 L192.2,137.9 L192.8,136.6 L193.3,140.7 L193.8,139.6 L194.3,140.6 L194.8,137.6 L195.3,141.3 L195.9,138.1 L196.4,141.8 L196.9,140.3 L197.4,140.0 L197.9,140.5 L198.5,141.7 L199.0,138.4 L199.6,137.4 L200.1,138.7 L200.7,137.1 L201.2,136.1 L201.7,135.9 L202.3,135.1 L202.8,135.4 L203.3,135.5 L203.9,135.1 L204.4,136.7 L204.9,134.2 L205.5,134.8 L206.0,133.0 L206.5,133.8 L207.0,132.5 L207.5,133.6 L208.1,132.7 L208.6,135.9 L209.1,135.2 L209.6,133.7 L210.1,135.1 L210.6,137.2 L211.1,133.7 L211.6,136.9 L212.2,135.3 L212.7,135.7 L213.2,137.3 L213.7,135.4 L214.3,138.0 L215.0,140.9 L215.5,142.2 L216.1,139.4 L216.6,141.6 L217.1,141.0 L217.6,140.7 L218.2,139.7 L218.7,139.4 L219.2,138.1 L219.7,138.5 L220.2,138.2 L220.8,141.2 L221.3,139.0 L221.8,138.8 L222.3,138.6 L222.8,142.0 L223.3,142.3 L223.9,141.6 L224.4,140.0 L224.9,140.0 L225.4,140.4 L225.9,141.2 L226.4,140.1 L226.9,141.5 L227.4,140.8 L228.0,144.0 L228.5,144.2 L229.0,142.5 L229.5,141.3 L230.0,144.6 L230.5,141.8 L231.0,142.0 L231.5,140.5 L232.0,142.2 L232.5,142.6 L233.0,142.8 L233.5,141.5 L234.0,142.9 L234.5,140.7 L235.0,141.9 L235.5,141.1 L236.0,142.5 L236.5,141.0 L237.0,140.9 L237.5,142.2 L238.0,141.9 L238.5,143.5 L239.0,143.3 L239.5,144.3 L240.0,143.8 L240.5,144.0 L241.0,144.7 L241.5,142.5 L242.0,142.1 L242.5,144.9 L243.0,141.2 L243.5,143.7 L244.0,143.2 L244.5,140.5 L245.0,144.0 L245.5,144.1 L246.0,142.9 L246.5,143.3 L247.0,143.6 L247.5,140.6 L248.0,142.2 L248.5,142.0 L249.0,143.4 L249.5,143.2 L250.0,143.3 L250.5,142.1 L251.0,143.4 L251.6,141.2 L252.3,140.0 L252.9,136.6 L253.5,136.3 L254.0,137.3 L254.6,138.9 L255.1,138.4 L255.7,142.2 L256.2,141.0 L256.7,141.3 L257.2,141.3 L257.8,141.5 L258.3,140.7 L258.8,138.5 L259.3,142.0 L259.8,141.8 L260.3,140.7 L260.8,140.9 L261.3,141.4 L261.9,138.8 L262.4,141.7 L262.9,139.6 L263.4,138.8 L263.9,139.8 L264.4,142.0 L264.9,139.8 L265.4,142.3 L265.9,143.5 L266.4,141.5 L266.9,141.1 L267.4,141.7 L267.9,142.7 L268.5,143.2 L269.0,142.7 L269.5,142.9 L270.0,140.6 L270.5,141.0 L271.0,141.6 L271.5,143.9 L272.0,142.1 L272.5,143.4 L273.0,141.1 L273.5,141.3 L274.0,142.3 L274.6,144.2 L275.1,144.4 L275.6,144.4 L276.1,142.7 L276.6,143.8 L277.1,143.7 L277.7,143.7 L278.2,142.3 L278.7,145.8 L279.2,142.8 L279.7,146.3 L280.3,146.2 L280.8,142.2 L281.3,144.3 L281.8,145.9 L282.3,146.7 L282.8,144.4 L283.4,143.7 L283.9,143.5 L284.4,146.9 L284.9,143.7 L285.4,145.4 L285.9,143.6 L286.4,145.3 L286.9,147.3 L287.4,143.8 L287.9,146.9 L288.4,145.6 L288.9,147.4 L289.4,146.6 L289.9,144.6 L290.4,147.7 L290.9,145.9 L291.4,144.0 L291.9,144.0 L292.4,146.2 L292.9,146.1 L293.4,145.5 L293.9,144.9 L294.4,145.9 L294.9,145.9 L295.4,148.2 L295.9,144.6 L296.4,148.0 L296.9,148.5 L297.5,144.2 L298.2,146.6 L298.8,144.5 L299.3,145.5 L299.8,143.0 L300.3,143.5 L300.8,143.7 L301.3,146.5 L301.8,144.9 L302.3,144.0 L302.8,144.5 L303.4,143.9 L303.9,143.1 L304.4,143.5 L304.9,146.8 L305.4,144.6 L305.9,147.6 L306.4,144.7 L306.9,144.9 L307.4,146.1 L307.9,144.8 L308.4,145.6 L308.9,148.2 L309.4,147.9 L309.9,147.6 L310.4,146.8 L310.9,148.0 L311.4,148.2 L312.0,146.5 L312.5,147.2 L313.0,144.3 L313.5,147.3 L314.0,146.1 L314.5,147.5 L315.0,147.0 L315.5,145.4 L316.0,144.4 L316.5,148.4 L317.0,144.9 L317.5,146.5 L318.0,146.0 L318.5,145.9 L319.0,147.9 L319.5,149.0 L320.0,146.0 L320.5,147.8 L321.0,146.3 L321.6,147.5 L322.1,146.8 L322.6,145.9 L323.1,146.0 L323.6,146.3 L324.1,149.4 L324.6,147.7 L325.1,146.5 L325.6,149.6 L326.1,150.1 L326.6,147.8 L327.1,146.4 L327.6,146.7 L328.1,146.3 L328.6,147.4 L329.1,146.3 L329.6,147.0 L330.1,147.1 L330.7,148.5 L331.2,149.9 L331.7,149.4 L332.2,147.9 L332.7,147.9 L333.2,148.5 L333.7,147.8 L334.2,147.7 L334.7,146.1 L335.3,146.7 L335.8,149.4 L336.4,145.3 L336.9,146.6 L337.5,146.8 L338.0,147.5 L338.5,144.8 L339.0,145.2 L339.5,145.2 L340.1,146.0 L340.6,146.4 L341.1,148.7 L341.6,148.4 L342.1,148.7 L342.6,145.1 L343.1,145.2 L343.6,148.4 L344.2,149.3 L344.7,147.6 L345.2,148.2 L345.7,145.8 L346.2,147.3 L346.8,149.5 L347.3,148.9 L347.8,148.9 L348.4,149.2 L348.9,145.8 L349.4,145.0 L350.0,145.1 L350.5,146.5 L351.0,147.4 L351.5,148.7 L352.0,147.9 L352.6,147.8 L353.1,148.4 L353.6,147.3 L354.1,147.9 L354.6,145.8 L355.1,149.2 L355.7,147.0 L356.2,150.2 L356.7,149.2 L357.2,147.8 L357.7,147.1 L358.2,147.7 L358.7,149.4 L359.2,149.7 L359.7,147.2 L360.2,147.0 L360.7,149.1 L361.3,149.4 L361.8,148.6 L362.3,147.9 L362.8,149.6 L363.3,147.0 L363.8,148.3 L364.3,149.1 L364.8,151.3 L365.3,149.7 L365.9,150.4 L366.4,148.4 L367.0,147.0 L367.5,146.8 L368.1,149.7 L368.6,148.3 L369.1,146.6 L369.6,145.4 L370.1,147.5 L370.6,148.4 L371.1,147.3 L371.6,146.6 L372.1,148.5 L372.6,149.7 L373.1,146.6 L373.6,145.8 L374.1,147.2 L374.6,147.6 L375.1,148.8 L375.6,146.7 L376.1,149.4 L376.6,149.2 L377.1,148.2 L377.6,147.0 L378.1,150.4 L378.6,147.5 L379.1,149.8 L379.6,147.3 L380.1,147.3 L380.6,149.7 L381.1,147.7 L381.6,150.6 L382.1,148.7 L382.6,147.4 L383.1,147.6 L383.6,148.5 L384.2,149.6 L384.7,150.9 L385.2,147.4 L385.7,148.6 L386.2,147.8 L386.7,151.2 L387.2,147.6 L387.7,147.3 L388.2,147.4 L388.7,148.9 L389.2,151.2 L389.7,151.1 L390.2,150.5 L390.7,151.7 L391.2,151.5 L391.7,148.9 L392.2,148.3 L392.7,151.7 L393.2,150.9 L393.8,147.8 L394.3,150.6 L394.8,149.4 L395.3,149.4 L395.8,149.3 L396.3,148.6 L396.8,148.0 L397.3,149.2 L397.8,149.6 L398.3,152.3 L398.8,148.6 L399.3,152.3 L399.8,149.0 L400.3,149.7 L400.8,151.7 L401.3,151.7 L401.8,150.0 L402.3,148.3 L402.8,150.2 L403.3,149.7 L403.8,152.1 L404.3,148.9 L404.8,149.7 L405.3,152.0 L405.8,148.2 L406.3,149.9 L406.8,151.7 L407.3,151.5 L407.8,148.3 L408.3,148.3 L408.8,148.4 L409.3,152.1 L409.8,149.2 L410.3,151.3 L410.8,151.8 L411.3,149.2 L411.8,148.8 L412.3,151.7 L412.8,150.1 L413.3,148.4 L413.9,150.2 L414.4,148.4 L414.9,148.0 L415.4,146.7 L415.9,149.9 L416.4,150.5 L416.9,149.1 L417.4,150.4 L417.9,146.3 L418.4,147.2 L418.9,148.3 L419.4,150.4 L419.9,150.4 L420.4,147.9 L420.9,147.3 L421.4,148.1 L421.9,148.4 L422.5,150.3 L423.0,147.0 L423.5,149.7 L424.0,149.4 L424.5,149.8 L425.0,149.6 L425.5,148.9 L426.0,147.6 L426.5,147.6 L427.0,147.8 L427.5,149.7 L428.0,146.7 L428.6,147.3 L429.1,149.8 L429.6,147.7 L430.1,147.0 L430.6,146.9 L431.1,149.3 L431.7,148.4 L432.2,151.3 L432.7,151.0 L433.3,150.7 L434.0,146.7 L434.6,145.2 L435.1,145.4 L435.6,147.3 L436.1,148.4 L436.6,147.5 L437.1,146.7 L437.6,147.7 L438.1,148.7 L438.6,149.2 L439.1,149.7 L439.7,150.3 L440.2,149.6 L440.7,147.4 L441.2,150.8 L441.7,148.5 L442.2,149.9 L442.7,149.2 L443.2,151.0 L443.7,148.8 L444.2,149.2 L444.7,149.1 L445.2,148.6 L445.7,151.8 L446.2,150.4 L446.7,149.2 L447.2,149.4 L447.7,152.0 L448.2,149.8 L448.7,148.5 L449.2,151.0 L449.7,150.2 L450.2,151.6 L450.7,147.6 L451.2,149.2 L451.7,150.7 L452.2,150.7 L452.7,150.9 L453.2,147.0 L453.7,148.1 L454.2,147.2 L454.7,147.5 L455.2,150.9 L455.7,149.1 L456.2,150.6 L456.7,148.2 L457.2,150.4 L457.7,148.6 L458.2,147.8 L458.7,150.2 L459.2,150.9 L459.8,147.3 L460.3,149.5 L460.8,149.6 L461.3,147.9 L461.8,148.6 L462.3,147.6 L462.8,148.0 L463.3,148.2 L463.8,149.9 L464.3,150.3 L464.8,148.5 L465.4,147.9 L465.9,149.4 L466.4,151.1 L466.9,149.2 L467.4,149.9 L467.9,149.6 L468.5,152.4 L469.0,151.5 L469.5,149.5 L470.0,149.8 L470.5,150.8 L471.1,151.1 L471.6,151.1 L472.1,148.4 L472.7,148.3 L473.2,150.3 L473.7,148.7 L474.3,147.8 L474.8,147.6 L475.3,150.2 L475.8,147.3 L476.3,148.2 L476.9,147.2 L477.4,147.3 L477.9,149.1 L478.4,149.5 L478.9,146.6 L479.4,145.7 L480.0,147.9 L480.5,145.4 L481.0,144.4 L481.5,148.2 L482.0,146.2 L482.5,148.0 L483.0,146.3 L483.5,148.5 L484.0,146.8 L484.5,145.6 L485.0,145.0 L485.6,147.5 L486.1,148.0 L486.6,149.3 L487.1,145.8 L487.6,148.2 L488.1,147.2 L488.6,147.9 L489.1,146.4 L489.6,147.0 L490.1,148.0 L490.6,149.7 L491.1,146.0 L491.6,147.6 L492.1,148.9 L492.6,149.6 L493.1,146.1 L493.6,145.7 L494.1,149.3 L494.6,149.3 L495.1,147.1 L495.6,145.1 L496.1,148.9 L496.6,146.5 L497.1,148.7 L497.6,147.3 L498.1,148.2 L498.6,145.2 L499.1,147.9 L499.6,145.3 L500.1,146.0 L500.6,147.9 L501.1,147.8 L501.6,145.0 L502.1,145.1 L502.7,145.9 L503.2,146.4 L503.7,145.8 L504.2,144.6 L504.7,145.1 L505.2,147.2 L505.7,147.9 L506.2,144.2 L506.8,146.4 L507.3,147.3 L507.8,144.1 L508.3,147.6 L508.8,144.4 L509.3,146.4 L509.8,146.1 L510.3,146.4 L510.8,144.9 L511.3,145.3 L511.8,146.0 L512.4,145.2 L512.9,146.2 L513.4,145.2 L513.9,145.1 L514.4,143.2 L514.9,145.8 L515.4,145.1 L515.9,143.9 L516.4,146.5 L517.0,146.8 L517.5,145.5 L518.0,144.5 L518.5,146.0 L519.1,144.6 L519.6,144.9 L520.1,146.5 L520.6,145.2 L521.2,146.9 L521.7,147.4 L522.2,145.0 L522.8,147.2 L523.3,144.3 L523.9,146.8 L524.4,146.6 L525.0,145.0 L525.5,142.5 L526.0,144.5 L526.5,143.8 L527.0,146.3 L527.6,142.7 L528.1,145.8 L528.6,146.3 L529.1,145.1 L529.6,145.4 L530.1,142.6 L530.6,146.0 L531.1,143.8 L531.7,145.8 L532.2,145.6 L532.7,142.2 L533.2,144.9 L533.7,145.4 L534.2,141.6 L534.7,142.8 L535.2,144.5 L535.7,141.8 L536.2,145.0 L536.7,142.2 L537.2,144.6 L537.7,141.6 L538.2,143.1 L538.7,144.9 L539.2,141.7 L539.7,141.9 L540.2,142.9 L540.7,142.0 L541.2,140.7 L541.7,141.3 L542.2,141.2 L542.7,144.5 L543.2,143.2 L543.8,144.0 L544.3,140.6 L544.8,143.2 L545.3,140.0 L545.9,141.7 L546.4,142.0 L546.9,140.6 L547.4,142.7 L548.0,141.1 L548.5,141.1 L549.0,142.6 L549.5,139.5 L550.1,143.7 L550.6,142.3 L551.1,141.6 L551.6,143.6 L552.1,141.5 L552.6,145.0 L553.2,143.4 L553.7,142.7 L554.2,144.8 L554.7,143.0 L555.3,141.5 L555.8,143.6 L556.4,140.2 L556.9,143.2 L557.5,140.4 L558.0,141.7 L558.5,143.3 L559.0,141.6 L559.5,141.9 L560.1,140.4 L560.6,139.1 L561.1,139.3 L561.6,139.8 L562.1,141.9 L562.6,141.2 L563.1,141.6 L563.6,143.3 L564.2,140.0 L564.7,140.4 L565.2,142.3 L565.7,139.6 L566.3,139.2 L566.9,140.5 L567.4,139.1 L568.0,140.0 L568.6,139.1 L569.1,140.9 L569.6,141.1 L570.2,139.6 L570.7,141.7 L571.2,141.2 L571.7,140.0 L572.3,143.7 L572.8,140.9 L573.3,140.7 L573.8,140.5 L574.4,142.9 L574.9,144.0 L575.4,143.6 L576.0,142.0 L576.5,141.4 L577.0,140.4 L577.6,143.2 L578.1,142.9 L578.7,141.5 L579.3,142.3 L579.8,141.0 L580.4,142.7 L581.0,141.3 L581.5,139.5 L582.1,142.6 L582.6,139.1 L583.2,141.6 L583.8,141.3 L584.3,142.0"/>
<path fill="none" stroke="#ff0000" stroke-opacity="1" stroke-width="1.2" stroke-linejoin="round" d="M64.0,125.8 L64.7,125.6 L65.5,127.6 L66.2,126.0 L66.9,127.5 L67.6,128.7 L68.4,127.1 L69.1,127.5 L69.8,128.7 L70.5,128.7 L71.3,129.3 L72.0,130.0 L72.7,128.6 L73.4,129.2 L74.1,129.4 L74.8,129.0 L75.5,131.3 L76.2,131.2 L76.9,131.3 L77.6,129.8 L78.3,132.1 L79.0,132.1 L79.7,131.6 L80.4,132.1 L81.1,131.3 L81.8,130.6 L82.6,130.2 L83.3,130.4 L84.0,129.8 L84.7,130.3 L85.4,131.2 L86.2,131.5 L86.9,132.2 L87.7,132.3 L88.4,131.6 L89.2,132.7 L90.0,132.8 L90.7,134.1 L91.5,133.9 L92.2,133.6 L93.0,134.9 L93.7,135.7 L94.4,133.9 L95.1,135.5 L95.8,133.4 L96.5,133.9 L97.2,133.9 L97.9,135.1 L98.6,135.5 L99.3,135.0 L100.0,134.0 L100.7,135.3 L101.4,134.1 L102.1,134.0 L102.9,135.8 L103.6,135.2 L104.3,135.5 L105.0,135.6 L105.7,136.5 L106.5,135.4 L107.2,136.4 L107.9,136.2 L108.6,136.7 L109.3,135.8 L110.0,136.6 L110.8,136.4 L111.5,135.9 L112.2,135.8 L113.2,134.1 L114.1,130.1 L114.8,132.3 L115.5,130.6 L116.2,130.5 L116.9,130.8 L117.6,133.0 L118.3,131.8 L119.0,131.4 L119.7,131.4 L120.4,131.6 L121.1,133.3 L121.8,133.3 L122.5,134.0 L123.2,134.7 L123.9,133.6 L124.7,135.5 L125.4,135.5 L126.1,137.1 L126.8,137.7 L127.5,138.4 L128.3,136.0 L129.1,137.5 L129.9,137.2 L130.7,136.9 L131.5,134.5 L132.3,134.3 L133.0,134.2 L133.8,134.1 L134.5,136.1 L135.3,136.1 L136.0,135.8 L136.8,136.4 L137.5,136.0 L138.3,135.3 L139.0,134.9 L139.7,134.9 L140.4,136.4 L141.2,135.0 L141.9,135.3 L142.6,135.5 L143.3,134.5 L144.1,135.0 L144.8,135.0 L145.5,136.0 L146.2,135.1 L147.0,134.9 L147.7,136.4 L148.4,135.5 L149.1,136.5 L149.8,136.1 L150.5,134.9 L151.3,136.0 L152.0,136.2 L152.7,137.2 L153.4,136.4 L154.1,137.4 L154.8,137.2 L155.5,136.6 L156.2,138.3 L157.0,136.7 L157.7,138.6 L158.4,137.2 L159.1,137.0 L159.9,137.0 L160.7,137.9 L161.5,137.9 L162.3,135.1 L163.1,135.8 L163.9,135.3 L164.6,136.0 L165.3,134.5 L166.1,135.3 L166.8,134.9 L167.5,136.1 L168.2,134.7 L169.0,136.4 L169.7,134.8 L170.4,135.0 L171.1,136.5 L171.8,136.4 L172.6,135.8 L173.3,137.4 L174.0,136.5 L174.7,138.5 L175.4,138.7 L176.1,138.7 L176.8,138.1 L177.5,137.2 L178.2,137.1 L179.0,136.9 L179.7,137.9 L180.4,135.7 L181.1,137.4 L181.9,135.7 L182.7,136.6 L183.5,137.1 L184.3,139.0 L185.1,138.4 L185.9,138.5 L186.7,139.5 L187.5,137.7 L188.3,138.1 L189.1,138.0 L189.9,138.3 L190.7,138.1 L191.4,138.2 L192.2,137.8 L192.9,138.2 L193.7,138.1 L194.4,140.1 L195.2,140.0 L195.9,140.6 L196.7,139.6 L197.4,140.6 L198.2,140.8 L198.9,139.7 L199.7,138.1 L200.4,138.3 L201.2,138.7 L202.0,136.6 L202.8,135.9 L203.6,135.6 L204.4,136.0 L205.2,135.8 L206.0,133.6 L206.8,133.7 L207.5,134.1 L208.3,134.4 L209.1,135.1 L209.8,134.3 L210.6,134.9 L211.4,134.7 L212.2,136.7 L212.9,136.3 L213.7,134.9 L215.0,141.2 L215.7,139.1 L216.4,139.8 L217.1,141.3 L217.8,140.8 L218.5,140.7 L219.2,139.9 L219.9,139.4 L220.6,140.4 L221.3,139.2 L222.0,139.6 L222.8,140.2 L223.5,139.6 L224.2,140.7 L224.9,141.8 L225.7,141.8 L226.4,141.6 L227.1,142.1 L227.8,141.9 L228.6,141.3 L229.3,142.6 L230.0,142.4 L230.7,143.2 L231.5,143.7 L232.2,142.6 L232.9,143.0 L233.7,143.4 L234.4,142.7 L235.1,142.3 L235.8,143.5 L236.6,143.9 L237.3,143.7 L238.0,143.6 L238.8,144.0 L239.5,143.6 L240.2,143.4 L240.9,142.9 L241.7,142.5 L242.4,143.1 L243.1,141.8 L243.8,142.4 L244.5,143.2 L245.2,143.0 L246.0,142.7 L246.7,141.7 L247.4,142.0 L248.1,142.0 L248.8,142.3 L249.6,141.7 L250.3,142.2 L251.0,142.7 L251.9,139.0 L252.9,138.2 L253.8,139.4 L254.8,139.5 L255.7,140.7 L256.5,141.8 L257.2,139.6 L258.0,140.8 L258.8,139.9 L259.5,141.4 L260.3,141.8 L261.1,140.7 L261.9,139.7 L262.6,140.9 L263.4,140.8 L264.1,141.4 L264.9,141.1 L265.6,141.6 L266.4,142.3 L267.1,141.7 L267.8,141.6 L268.6,143.1 L269.3,141.5 L270.0,142.9 L270.8,142.4 L271.5,143.4 L272.3,142.1 L273.0,144.4 L273.7,143.0 L274.4,142.3 L275.1,143.0 L275.9,143.4 L276.6,142.6 L277.3,143.6 L278.0,143.8 L278.7,144.5 L279.4,143.8 L280.1,143.7 L280.8,143.7 L281.5,145.1 L282.3,145.6 L283.0,144.8 L283.7,144.1 L284.4,145.6 L285.1,144.8 L285.9,144.5 L286.6,144.4 L287.3,146.1 L288.1,146.3 L288.8,146.0 L289.5,145.7 L290.3,146.0 L291.0,145.4 L291.8,147.2 L292.5,145.9 L293.2,146.7 L294.0,147.3 L294.7,147.4 L295.4,146.7 L296.2,146.4 L296.9,147.1 L297.9,144.4 L298.8,144.4 L299.5,143.5 L300.2,144.9 L300.9,143.7 L301.7,144.1 L302.4,144.1 L303.1,144.7 L303.8,144.3 L304.5,144.1 L305.2,146.0 L306.0,145.2 L306.7,145.3 L307.4,145.6 L308.1,146.1 L308.8,146.0 L309.5,146.5 L310.3,146.6 L311.0,145.9 L311.7,147.3 L312.4,147.1 L313.1,145.2 L313.9,147.1 L314.6,147.3 L315.3,147.1 L316.0,145.5 L316.7,147.3 L317.4,146.9 L318.1,145.6 L318.8,145.7 L319.5,148.0 L320.2,147.4 L320.9,146.5 L321.7,146.3 L322.4,146.5 L323.1,146.8 L323.8,148.2 L324.5,147.3 L325.2,147.0 L325.9,148.9 L326.6,148.7 L327.4,147.2 L328.1,149.0 L328.9,148.4 L329.6,148.8 L330.4,148.6 L331.2,149.2 L331.9,149.0 L332.7,149.1 L333.4,147.6 L334.2,148.9 L335.0,148.0 L335.7,148.0 L336.5,146.8 L337.2,147.3 L338.0,146.0 L338.8,145.5 L339.5,145.7 L340.3,145.7 L341.1,146.7 L341.9,145.9 L342.6,147.1 L343.4,146.5 L344.2,147.6 L344.9,147.8 L345.7,148.1 L346.5,148.6 L347.3,146.3 L348.1,148.0 L348.9,146.9 L349.7,146.8 L350.5,146.8 L351.2,147.5 L352.0,146.6 L352.7,147.0 L353.5,148.5 L354.2,146.7 L355.0,148.3 L355.7,148.5 L356.5,147.3 L357.2,149.0 L358.0,149.2 L358.7,149.9 L359.5,148.5 L360.2,150.1 L361.0,149.0 L361.8,149.0 L362.5,150.1 L363.3,148.1 L364.0,149.8 L364.8,149.6 L365.6,148.5 L366.3,149.4 L367.1,147.8 L367.8,147.7 L368.6,147.5 L369.3,148.1 L370.0,146.8 L370.7,147.4 L371.4,147.5 L372.1,147.9 L372.8,148.6 L373.5,147.4 L374.2,148.7 L374.9,147.8 L375.6,148.1 L376.3,147.6 L377.0,148.2 L377.7,149.4 L378.4,148.7 L379.1,149.1 L379.8,148.1 L380.5,148.1 L381.2,148.1 L381.9,148.9 L382.7,149.1 L383.4,149.5 L384.1,147.8 L384.8,149.5 L385.5,150.0 L386.2,149.2 L386.9,148.1 L387.6,148.8 L388.3,148.1 L389.1,148.6 L389.8,150.5 L390.5,149.8 L391.2,150.0 L391.9,150.4 L392.6,150.7 L393.3,150.1 L394.0,150.2 L394.7,150.3 L395.5,150.5 L396.2,150.3 L396.9,150.6 L397.6,149.5 L398.3,150.7 L399.0,150.2 L399.7,150.9 L400.5,149.3 L401.2,149.5 L401.9,149.2 L402.6,151.0 L403.3,151.3 L404.1,150.7 L404.8,150.0 L405.5,151.1 L406.2,151.0 L406.9,150.4 L407.6,149.7 L408.4,149.8 L409.1,150.1 L409.8,149.9 L410.6,149.9 L411.3,150.3 L412.1,150.8 L412.8,148.5 L413.6,149.5 L414.4,148.1 L415.1,148.1 L415.9,149.5 L416.6,148.8 L417.4,149.4 L418.1,148.3 L418.9,147.2 L419.6,148.1 L420.4,148.6 L421.1,149.5 L421.8,149.6 L422.6,148.3 L423.3,148.2 L424.0,147.4 L424.8,148.7 L425.5,147.7 L426.3,147.6 L427.0,147.2 L427.7,147.3 L428.4,149.1 L429.1,147.8 L429.9,150.0 L430.6,148.0 L431.3,150.0 L432.0,148.3 L432.7,148.1 L433.6,148.7 L434.6,146.4 L435.3,147.8 L436.1,146.8 L436.8,146.7 L437.6,148.7 L438.3,148.8 L439.0,149.4 L439.8,149.3 L440.5,148.0 L441.2,149.6 L442.0,150.0 L442.7,149.7 L443.5,151.1 L444.2,149.7 L444.9,151.3 L445.6,150.6 L446.4,148.8 L447.1,148.7 L447.8,150.2 L448.5,150.5 L449.2,148.6 L449.9,149.0 L450.7,150.0 L451.4,148.5 L452.1,150.1 L452.8,149.1 L453.5,147.9 L454.3,148.6 L455.0,149.0 L455.7,148.6 L456.5,149.2 L457.2,148.0 L458.0,149.6 L458.7,148.6 L459.5,149.3 L460.3,149.4 L461.0,148.9 L461.8,148.9 L462.5,149.9 L463.3,150.4 L464.0,150.2 L464.8,150.0 L465.5,149.6 L466.3,149.3 L467.0,151.7 L467.8,151.3 L468.5,151.9 L469.3,150.9 L470.0,151.9 L470.8,152.2 L471.6,151.3 L472.4,150.2 L473.2,149.0 L474.0,148.8 L474.8,149.3 L475.5,147.9 L476.3,148.4 L477.0,148.0 L477.8,148.5 L478.5,148.0 L479.3,146.5 L480.0,145.6 L480.8,146.1 L481.5,146.2 L482.3,146.8 L483.0,147.5 L483.8,147.8 L484.5,145.9 L485.3,148.0 L486.1,148.1 L486.8,148.4 L487.6,147.9 L488.3,147.3 L489.1,148.8 L489.8,148.6 L490.5,148.2 L491.3,148.7 L492.0,147.2 L492.7,146.5 L493.4,147.5 L494.1,148.0 L494.9,146.5 L495.6,147.7 L496.3,148.0 L497.0,146.3 L497.7,147.1 L498.4,147.1 L499.2,146.5 L499.9,145.8 L500.6,145.8 L501.4,147.0 L502.1,147.0 L502.9,146.2 L503.7,145.3 L504.5,147.0 L505.2,146.9 L506.0,145.5 L506.8,146.4 L507.5,147.1 L508.3,147.0 L509.1,146.1 L509.8,145.8 L510.6,146.0 L511.3,145.0 L512.1,144.9 L512.9,144.7 L513.6,145.9 L514.4,145.0 L515.1,145.4 L515.9,144.9 L516.6,145.4 L517.4,144.8 L518.1,144.9 L518.8,147.4 L519.5,146.2 L520.2,145.9 L521.0,147.4 L521.7,148.1 L522.5,146.0 L523.2,146.5 L524.0,145.3 L524.7,145.1 L525.5,143.3 L526.2,143.3 L526.9,145.5 L527.6,145.1 L528.3,144.1 L529.0,144.3 L529.7,143.4 L530.4,144.6 L531.1,143.7 L531.8,144.8 L532.5,144.3 L533.2,144.4 L533.9,144.6 L534.7,142.9 L535.4,142.3 L536.1,142.6 L536.9,142.4 L537.6,142.1 L538.3,142.0 L539.0,143.1 L539.8,143.8 L540.5,142.7 L541.2,143.8 L542.0,143.7 L542.7,141.6 L543.4,142.6 L544.2,141.9 L544.9,141.0 L545.6,142.8 L546.3,140.8 L547.0,141.3 L547.8,141.3 L548.5,141.8 L549.2,141.5 L549.9,141.2 L550.6,141.7 L551.4,141.3 L552.1,143.6 L552.8,144.1 L553.5,142.6 L554.2,142.5 L555.0,142.5 L555.7,142.2 L556.5,143.1 L557.2,142.6 L558.0,141.9 L558.7,140.1 L559.4,141.9 L560.1,141.8 L560.8,141.7 L561.5,142.5 L562.2,140.4 L562.9,140.6 L563.6,142.1 L564.3,142.6 L565.0,142.1 L565.7,141.2 L566.4,141.6 L567.2,141.6 L567.9,139.7 L568.6,139.9 L569.4,140.0 L570.2,140.0 L571.0,141.2 L571.7,140.8 L572.5,141.3 L573.3,141.3 L574.1,142.7 L574.9,141.2 L575.7,142.9 L576.5,141.7 L577.3,141.4 L578.1,143.6 L578.8,141.4 L579.5,142.5 L580.3,141.8 L581.0,141.2 L581.8,139.9 L582.6,141.0 L583.5,140.6 L584.3,142.0"/>
<path fill="none" stroke="#ff0000" stroke-opacity="0.45" stroke-width="0.9" stroke-linejoin="round" d="M586.6,164.0 L587.2,162.3 L587.8,160.2 L588.3,159.7 L588.8,159.5 L589.4,161.5 L589.9,160.4 L590.4,161.2 L591.0,159.6 L591.5,160.1 L592.0,159.7 L592.5,161.9 L593.0,161.2 L593.5,159.6 L594.0,162.1 L594.5,159.8 L595.0,160.1 L595.5,159.1 L596.0,159.4 L596.5,161.3 L597.0,159.3 L597.5,158.6 L598.0,159.6 L598.5,158.8 L599.0,160.8 L599.5,157.8 L600.0,160.8 L600.5,157.3 L601.0,160.2 L601.5,159.6 L602.0,158.1 L602.5,159.3 L603.0,158.8 L603.6,158.9 L604.1,158.9 L604.6,159.6 L605.1,162.1 L605.6,162.3 L606.1,162.2 L606.6,159.4 L607.1,160.3 L607.6,162.7 L608.2,159.9 L608.7,162.4 L609.2,161.1 L609.7,163.7 L610.2,160.5 L610.7,163.5 L611.2,162.0 L611.7,161.4 L612.2,161.1 L612.7,164.2 L613.2,163.3 L613.7,162.2 L614.2,163.3 L614.7,165.2 L615.2,162.9 L615.7,164.3 L616.2,162.9 L616.7,163.2 L617.2,165.5 L617.7,164.7"/>
<path fill="none" stroke="#ff0000" stroke-opacity="1" stroke-width="1.2" stroke-linejoin="round" d="M586.6,162.9 L587.8,159.2 L588.5,159.2 L589.2,159.5 L589.9,160.7 L590.6,160.8 L591.3,160.6 L592.0,160.8 L592.8,161.3 L593.5,161.3 L594.2,161.2 L595.0,160.6 L595.8,159.7 L596.5,159.3 L597.2,160.3 L598.0,159.5 L598.8,159.8 L599.5,158.4 L600.2,159.6 L601.0,158.5 L601.7,159.7 L602.4,160.0 L603.1,159.6 L603.8,159.0 L604.5,160.8 L605.2,160.3 L606.0,161.3 L606.7,160.5 L607.4,160.6 L608.1,162.0 L608.8,161.4 L609.5,161.3 L610.2,162.0 L611.0,162.6 L611.7,161.8 L612.5,163.0 L613.2,163.1 L614.0,163.5 L614.7,163.0 L615.5,164.3 L616.2,164.8 L617.0,165.1 L617.7,164.7"/>
<rect x="584.3" y="143" width="0.8" height="23" fill="rgba(255,0,0,0.22)"/>
<rect x="584.5" y="165.3" width="1.4" height="4.6" fill="rgba(255,0,0,0.8)"/>
<rect x="585.6" y="161" width="0.9" height="5" fill="rgba(255,0,0,0.3)"/>
<rect x="617.3" y="134" width="0.8" height="31" fill="rgba(255,0,0,0.25)"/>
<rect x="617" y="130.6" width="1.5" height="4.5" fill="#ff0000"/>
<rect x="39.9" y="228.7" width="0.9" height="9.3" fill="#2020e8" fill-opacity="0.3"/>
<rect x="510" y="233.7" width="0.9" height="3.8" fill="#2020e8" fill-opacity="0.3"/>
<rect x="515" y="234.3" width="0.9" height="4.4" fill="#2020e8" fill-opacity="0.3"/>
<rect x="583.9" y="226.2" width="0.9" height="11.5" fill="#2020e8" fill-opacity="0.3"/>
<path fill="none" stroke="#2020e8" stroke-opacity="0.4" stroke-width="0.9" stroke-linejoin="round" d="M31.4,228.2 L32.0,229.5 L32.5,231.3 L33.1,232.2 L33.7,232.7 L34.3,232.2 L34.9,230.9 L35.4,232.1 L36.0,231.2 L36.6,230.3 L37.1,230.0 L37.7,227.7 L38.2,227.5 L38.8,228.2 L39.4,227.7 L39.9,228.7"/>
<path fill="none" stroke="#2020e8" stroke-opacity="0.9" stroke-width="1" stroke-linejoin="round" d="M31.4,228.1 L32.0,229.8 L32.5,232.1 L33.1,232.3 L33.7,233.9 L34.3,233.9 L34.9,232.3 L35.4,231.1 L36.0,231.1 L36.6,230.2 L37.1,229.9 L37.7,230.0 L38.2,228.8 L38.8,229.8 L39.4,229.3 L39.9,228.7"/>
<path fill="none" stroke="#2020e8" stroke-opacity="0.4" stroke-width="0.9" stroke-linejoin="round" d="M40.4,236.2 L40.9,236.7 L41.5,238.6 L42.0,238.8 L42.5,238.0 L43.1,237.4 L43.6,238.9 L44.1,237.8 L44.7,239.3 L45.2,238.2 L45.7,238.0 L46.3,239.0 L46.8,237.9 L47.4,237.2 L47.9,237.0 L48.5,236.2 L49.0,237.5 L49.5,237.7 L50.0,236.5 L50.5,238.0 L51.1,237.7 L51.6,236.2 L52.1,237.0 L52.6,237.6 L53.1,237.2 L53.6,237.7 L54.2,238.2 L54.7,236.3 L55.2,237.2 L55.7,236.7 L56.2,237.2 L56.7,237.1 L57.2,236.7 L57.8,238.8 L58.3,236.8 L58.8,236.9 L59.3,237.8 L59.8,238.7 L60.3,238.5 L60.9,238.5 L61.4,239.1 L61.9,237.2 L62.4,239.0 L62.9,239.3 L63.4,237.1 L63.9,237.6 L64.5,237.1 L65.0,238.0 L65.5,237.3 L66.0,238.7 L66.5,237.9 L67.0,237.5 L67.6,237.5 L68.1,237.1 L68.6,238.6 L69.1,238.2 L69.6,238.5 L70.1,238.2 L70.6,239.1 L71.2,237.3 L71.7,238.7 L72.2,238.1 L72.7,239.2 L73.2,239.0 L73.7,237.2 L74.3,238.3 L74.8,238.4 L75.3,238.6 L75.8,237.5 L76.3,238.9 L76.8,237.2 L77.3,239.2 L77.9,238.2 L78.4,239.1 L78.9,239.1 L79.4,237.7 L79.9,237.5 L80.4,237.6 L80.9,238.3 L81.4,238.9 L82.0,238.3 L82.5,238.1 L83.0,237.4 L83.5,239.1 L84.0,237.7 L84.5,238.8 L85.0,239.0 L85.6,238.6 L86.1,237.9 L86.6,238.3 L87.1,239.1 L87.6,239.1 L88.1,238.8 L88.6,239.2 L89.1,238.4 L89.7,238.1 L90.2,238.0 L90.7,239.2 L91.2,238.8 L91.7,238.7 L92.2,236.7 L92.8,238.1 L93.3,236.9 L93.8,237.2 L94.3,238.0 L94.8,238.1 L95.3,236.9 L95.9,235.5 L96.4,236.6 L96.9,236.1 L97.4,235.7 L97.9,235.3 L98.4,235.5 L99.0,236.9 L99.5,235.1 L100.0,236.6 L100.5,236.7 L101.0,235.9 L101.5,235.1 L102.1,235.6 L102.6,234.7 L103.1,235.6 L103.6,235.1 L104.1,235.9 L104.6,235.9 L105.1,235.7 L105.7,235.9 L106.2,234.8 L106.7,234.9 L107.2,236.2 L107.7,235.2 L108.2,235.1 L108.8,234.9 L109.3,236.0 L109.8,234.7 L110.3,235.0 L110.8,234.2 L111.3,234.6 L111.9,234.8 L112.4,234.3 L112.9,235.6 L113.4,236.6 L113.9,237.1 L114.4,235.1 L115.0,237.1 L115.5,237.3 L116.0,236.5 L116.5,236.1 L117.0,237.3 L117.5,237.2 L118.1,237.6 L118.6,237.6 L119.1,236.8 L119.6,236.8 L120.1,237.3 L120.6,237.5 L121.1,237.3 L121.6,237.0 L122.2,236.5 L122.7,236.2 L123.2,237.8 L123.7,237.5 L124.2,236.3 L124.7,236.9 L125.2,236.1 L125.8,237.4 L126.3,237.4 L126.8,235.9 L127.3,235.8 L127.8,237.0 L128.3,236.2 L128.8,236.2 L129.3,235.7 L129.9,236.4 L130.4,237.5 L130.9,235.9 L131.4,235.5 L131.9,235.7 L132.4,237.5 L132.9,237.8 L133.4,235.8 L133.9,236.5 L134.4,237.6 L134.9,235.5 L135.4,237.7 L136.0,237.7 L136.5,236.9 L137.0,237.3 L137.5,237.1 L138.0,237.4 L138.5,237.1 L139.0,235.7 L139.5,237.0 L140.0,237.7 L140.5,235.9 L141.0,237.2 L141.5,237.3 L142.0,237.5 L142.5,237.5 L143.0,236.0 L143.6,235.6 L144.1,237.7 L144.6,237.5 L145.1,237.2 L145.6,235.5 L146.1,237.1 L146.6,237.7 L147.1,236.3 L147.6,236.3 L148.1,236.9 L148.6,235.5 L149.1,236.2 L149.6,237.7 L150.1,235.9 L150.6,235.8 L151.1,236.8 L151.6,236.2 L152.1,235.3 L152.6,235.8 L153.1,237.2 L153.6,236.0 L154.1,236.6 L154.6,237.5 L155.1,237.5 L155.6,236.1 L156.1,236.0 L156.6,236.9 L157.1,237.0 L157.6,236.8 L158.1,235.1 L158.6,236.8 L159.1,235.3 L159.7,237.4 L160.3,236.8 L160.8,237.6 L161.4,238.0 L162.0,237.0 L162.5,238.3 L163.0,237.6 L163.5,238.8 L164.0,238.4 L164.5,237.7 L165.1,239.0 L165.6,238.8 L166.1,237.9 L166.6,238.2 L167.1,238.7 L167.6,236.5 L168.1,238.5 L168.6,238.4 L169.1,237.0 L169.6,237.1 L170.2,237.4 L170.7,236.8 L171.2,236.7 L171.7,237.0 L172.2,238.4 L172.7,236.9 L173.2,237.9 L173.7,236.9 L174.2,236.3 L174.7,236.0 L175.2,237.0 L175.8,237.4 L176.3,237.2 L176.8,237.4 L177.3,236.5 L177.8,236.9 L178.3,236.1 L178.8,235.8 L179.3,237.1 L179.8,236.5 L180.3,236.7 L180.8,236.2 L181.3,234.4 L181.8,234.4 L182.4,235.5 L182.9,233.5 L183.4,235.1 L183.9,234.6 L184.4,233.7 L184.9,232.5 L185.4,232.3 L185.9,232.4 L186.4,233.4 L187.0,232.6 L187.5,233.1 L188.0,233.9 L188.5,234.5 L189.1,233.0 L189.6,235.3 L190.1,233.4 L190.6,234.5 L191.2,235.3 L191.7,235.0 L192.2,234.7 L192.7,235.0 L193.3,234.1 L193.8,235.7 L194.3,234.4 L194.8,234.5 L195.3,234.2 L195.8,235.0 L196.4,234.1 L196.9,233.3 L197.4,234.5 L197.9,234.9 L198.5,233.1 L199.0,234.5 L199.5,233.9 L200.1,233.7 L200.6,231.8 L201.1,231.8 L201.7,231.8 L202.2,232.3 L202.7,232.4 L203.3,232.7 L203.8,233.8 L204.3,234.1 L204.9,233.8 L205.4,235.8 L205.9,236.4 L206.5,236.1 L207.0,237.3 L207.5,236.4 L208.0,237.2 L208.5,236.7 L209.0,236.5 L209.5,238.0 L210.0,236.6 L210.5,236.8 L211.0,236.6 L211.5,237.5 L212.1,237.1 L212.6,237.6 L213.1,236.0 L213.6,236.7 L214.1,236.0 L214.6,238.0 L215.1,236.8 L215.6,237.8 L216.1,236.3 L216.6,237.0 L217.1,236.9 L217.6,236.1 L218.1,237.5 L218.7,237.3 L219.2,236.7 L219.7,237.4 L220.2,236.5 L220.7,236.1 L221.2,236.0 L221.8,237.7 L222.3,237.5 L222.8,236.6 L223.3,236.4 L223.8,237.1 L224.3,236.9 L224.8,237.3 L225.4,236.7 L225.9,237.1 L226.4,235.6 L226.9,236.0 L227.4,235.9 L227.9,236.7 L228.5,236.7 L229.0,235.6 L229.5,237.1 L230.0,236.8 L230.5,237.1 L231.0,235.8 L231.6,234.3 L232.1,235.1 L232.6,234.4 L233.1,233.6 L233.6,234.0 L234.1,233.6 L234.7,233.8 L235.2,232.0 L235.7,232.3 L236.2,231.9 L236.7,232.0 L237.2,232.0 L237.7,232.8 L238.2,231.7 L238.7,233.1 L239.2,233.2 L239.7,233.3 L240.3,233.7 L240.8,233.4 L241.3,233.2 L241.8,233.1 L242.3,232.7 L242.8,233.6 L243.3,233.8 L243.8,233.0 L244.3,232.7 L244.8,232.8 L245.3,233.9 L245.8,234.3 L246.4,233.4 L246.9,233.7 L247.4,234.5 L247.9,235.0 L248.4,235.7 L248.9,236.4 L249.5,235.0 L250.0,236.6 L250.5,237.1 L251.0,236.5 L251.5,236.4 L252.0,237.7 L252.5,237.0 L253.0,236.8 L253.5,237.6 L254.0,237.1 L254.5,237.2 L255.0,235.6 L255.5,236.3 L256.0,236.6 L256.5,236.9 L257.0,235.7 L257.5,236.2 L258.0,237.4 L258.5,235.7 L259.0,236.6 L259.5,236.0 L260.0,236.5 L260.5,236.5 L261.0,235.9 L261.5,236.6 L262.0,235.8 L262.5,236.9 L263.0,237.3 L263.5,236.6 L264.0,236.2 L264.5,236.7 L265.0,235.8 L265.5,235.6 L266.1,237.3 L266.6,235.7 L267.1,236.8 L267.6,236.5 L268.1,236.1 L268.6,237.0 L269.1,237.4 L269.6,235.5 L270.1,236.7 L270.6,237.3 L271.1,237.5 L271.6,235.6 L272.1,235.8 L272.6,236.3 L273.1,235.4 L273.6,236.6 L274.1,236.1 L274.6,236.4 L275.1,237.3 L275.6,235.3 L276.1,236.8 L276.6,237.3 L277.1,236.3 L277.6,235.4 L278.1,236.8 L278.6,237.0 L279.1,236.0 L279.6,236.5 L280.1,235.7 L280.6,236.4 L281.1,236.6 L281.6,236.2 L282.1,236.3 L282.6,237.4 L283.1,237.3 L283.6,235.5 L284.1,236.9 L284.6,236.7 L285.2,235.8 L285.7,236.0 L286.2,237.4 L286.7,236.9 L287.2,236.3 L287.7,237.5 L288.2,236.6 L288.7,236.3 L289.2,237.1 L289.7,237.4 L290.2,237.7 L290.7,236.7 L291.2,236.4 L291.7,236.2 L292.2,237.0 L292.7,237.4 L293.2,236.7 L293.8,236.0 L294.3,237.1 L294.8,236.7 L295.3,237.2 L295.8,238.0 L296.3,236.4 L296.8,237.4 L297.3,238.1 L297.8,237.7 L298.3,236.7 L298.8,236.3 L299.3,236.0 L299.8,236.0 L300.3,237.1 L300.8,236.4 L301.3,237.3 L301.8,236.1 L302.3,238.0 L302.8,236.5 L303.3,238.3 L303.8,238.0 L304.3,236.9 L304.8,238.1 L305.3,236.0 L305.9,236.4 L306.4,237.7 L306.9,237.8 L307.4,236.3 L307.9,237.6 L308.4,237.2 L308.9,237.2 L309.4,236.7 L309.9,236.2 L310.4,237.1 L310.9,236.8 L311.4,237.4 L311.9,236.9 L312.4,237.7 L312.9,236.8 L313.4,236.4 L313.9,236.8 L314.4,237.1 L314.9,236.9 L315.4,237.3 L315.9,237.6 L316.4,236.9 L316.9,236.9 L317.4,237.6 L317.9,237.8 L318.4,238.2 L318.9,237.8 L319.4,236.9 L319.9,237.2 L320.4,236.3 L320.9,238.1 L321.4,237.8 L321.9,237.0 L322.5,237.5 L323.0,236.6 L323.5,236.4 L324.0,238.4 L324.5,238.5 L325.0,236.9 L325.5,237.5 L326.0,238.1 L326.5,236.5 L327.0,237.6 L327.5,236.9 L328.0,238.2 L328.5,236.3 L329.0,236.6 L329.5,236.3 L330.0,238.2 L330.5,237.1 L331.0,237.5 L331.5,236.2 L332.0,236.9 L332.5,236.9 L333.0,237.2 L333.5,238.2 L334.0,237.6 L334.5,237.8 L335.0,238.5 L335.5,238.2 L336.0,237.9 L336.5,238.3 L337.0,237.9 L337.5,237.1 L338.0,236.8 L338.5,237.1 L339.0,237.7 L339.5,238.4 L340.0,238.4 L340.5,238.0 L341.0,237.3 L341.5,236.8 L342.0,237.9 L342.5,238.6 L343.0,236.6 L343.5,236.9 L344.0,237.1 L344.5,236.6 L345.0,236.6 L345.5,238.3 L346.0,237.4 L346.5,236.8 L347.0,238.0 L347.5,238.3 L348.0,237.9 L348.5,238.5 L349.0,236.8 L349.5,238.8 L350.1,238.2 L350.6,238.0 L351.1,238.2 L351.6,237.1 L352.1,236.7 L352.6,237.5 L353.1,238.1 L353.6,238.7 L354.1,237.0 L354.6,238.2 L355.1,238.4 L355.6,238.6 L356.1,238.6 L356.6,238.9 L357.1,238.7 L357.6,238.6 L358.1,237.3 L358.6,237.6 L359.1,237.3 L359.6,238.9 L360.1,237.3 L360.6,237.4 L361.1,238.0 L361.6,237.2 L362.1,239.0 L362.6,238.0 L363.1,239.1 L363.6,238.9 L364.1,237.9 L364.6,238.9 L365.1,237.4 L365.6,239.2 L366.1,238.8 L366.6,237.3 L367.1,238.8 L367.6,237.3 L368.1,239.0 L368.6,237.6 L369.1,239.1 L369.6,238.3 L370.1,238.0 L370.6,237.4 L371.1,236.8 L371.6,238.0 L372.1,237.1 L372.6,237.4 L373.1,238.3 L373.7,237.2 L374.2,236.5 L374.7,238.3 L375.2,237.3 L375.7,236.8 L376.2,237.1 L376.7,236.3 L377.2,237.1 L377.7,237.8 L378.2,236.2 L378.7,238.2 L379.3,237.4 L379.8,237.9 L380.3,238.0 L380.8,238.7 L381.3,237.3 L381.8,238.7 L382.3,237.6 L382.8,239.2 L383.4,237.6 L383.9,238.0 L384.4,238.2 L384.9,238.8 L385.4,239.2 L385.9,238.7 L386.4,239.1 L386.9,238.4 L387.4,238.1 L387.9,239.3 L388.4,238.8 L388.9,237.8 L389.4,238.9 L389.9,237.8 L390.4,239.4 L390.9,238.0 L391.4,239.7 L391.9,238.5 L392.4,238.1 L392.9,237.9 L393.4,239.1 L393.9,238.8 L394.4,238.5 L394.9,239.7 L395.4,238.3 L395.9,239.5 L396.4,238.1 L396.9,237.7 L397.4,238.1 L397.9,238.5 L398.4,238.4 L398.9,239.6 L399.4,238.9 L399.9,239.0 L400.5,239.3 L401.0,238.2 L401.5,238.1 L402.0,239.7 L402.5,239.0 L403.0,238.5 L403.5,237.8 L404.0,237.6 L404.5,239.2 L405.0,238.3 L405.5,239.9 L406.0,238.2 L406.5,238.5 L407.0,237.7 L407.5,238.4 L408.0,238.4 L408.5,239.1 L409.0,239.4 L409.5,239.8 L410.0,238.3 L410.5,238.3 L411.0,239.4 L411.5,238.2 L412.0,239.4 L412.5,237.9 L413.0,239.1 L413.5,238.6 L414.0,238.1 L414.5,239.5 L415.0,237.8 L415.5,238.4 L416.0,239.1 L416.5,239.5 L417.1,239.2 L417.6,238.9 L418.1,238.7 L418.6,236.9 L419.1,238.8 L419.6,238.2 L420.2,236.7 L420.7,238.6 L421.2,236.4 L421.7,236.6 L422.2,237.1 L422.7,238.0 L423.2,237.7 L423.7,237.8 L424.2,238.9 L424.7,237.8 L425.2,238.6 L425.7,238.8 L426.2,236.8 L426.7,236.7 L427.2,236.8 L427.7,238.8 L428.2,237.8 L428.7,237.3 L429.2,237.8 L429.7,238.5 L430.2,238.5 L430.7,238.6 L431.2,238.2 L431.7,237.9 L432.2,237.5 L432.7,237.2 L433.2,238.5 L433.7,238.4 L434.2,238.1 L434.7,238.2 L435.2,239.3 L435.7,238.7 L436.2,238.6 L436.7,239.1 L437.2,238.9 L437.8,237.2 L438.3,238.5 L438.8,238.5 L439.3,237.0 L439.8,239.2 L440.3,238.7 L440.8,238.1 L441.3,238.1 L441.8,238.6 L442.3,237.6 L442.8,237.0 L443.3,237.6 L443.8,239.1 L444.3,239.0 L444.8,239.0 L445.3,238.4 L445.8,237.8 L446.3,237.3 L446.8,238.4 L447.4,238.4 L447.9,238.2 L448.4,239.1 L448.9,237.3 L449.4,238.6 L449.9,237.3 L450.4,238.9 L450.9,237.3 L451.4,237.8 L451.9,238.9 L452.4,237.0 L452.9,238.5 L453.5,237.9 L454.0,238.8 L454.5,237.3 L455.0,237.0 L455.5,238.9 L456.0,237.1 L456.6,237.8 L457.1,237.7 L457.6,236.6 L458.1,237.2 L458.6,237.6 L459.2,237.7 L459.7,237.3 L460.2,238.1 L460.7,237.1 L461.2,238.0 L461.7,236.7 L462.3,237.7 L462.8,236.9 L463.3,237.2 L463.8,236.1 L464.3,237.7 L464.8,236.1 L465.3,236.6 L465.8,236.2 L466.3,237.2 L466.8,236.1 L467.3,236.3 L467.8,237.5 L468.3,235.9 L468.8,236.9 L469.3,235.5 L469.8,236.1 L470.3,236.6 L470.8,236.2 L471.3,236.6 L471.8,236.7 L472.3,236.3 L472.8,236.3 L473.3,234.9 L473.8,236.5 L474.3,234.7 L474.8,236.2 L475.3,236.2 L475.9,237.1 L476.4,236.8 L476.9,236.3 L477.5,237.5 L478.0,235.5 L478.5,236.0 L479.1,237.8 L479.6,236.0 L480.1,236.2 L480.6,237.8 L481.1,237.3 L481.7,237.5 L482.2,236.4 L482.7,236.7 L483.2,236.7 L483.7,237.1 L484.2,236.4 L484.7,236.9 L485.2,238.0 L485.8,238.2 L486.3,238.0 L486.8,238.1 L487.3,237.7 L487.8,237.9 L488.3,237.6 L488.8,237.3 L489.4,237.3 L489.9,237.4 L490.4,237.2 L490.9,237.2 L491.4,237.6 L491.9,237.2 L492.4,236.2 L492.9,238.3 L493.5,237.4 L494.0,238.4 L494.5,236.4 L495.0,236.8 L495.5,236.2 L496.0,238.3 L496.5,237.7 L497.0,237.1 L497.5,237.8 L498.0,236.1 L498.5,237.1 L499.0,237.1 L499.5,236.4 L500.0,236.1 L500.5,236.6 L501.0,236.2 L501.6,238.2 L502.1,238.0 L502.6,236.7 L503.1,236.1 L503.6,237.5 L504.1,236.5 L504.6,236.6 L505.1,237.0 L505.6,236.1 L506.1,236.5 L506.6,235.8 L507.1,236.7 L507.6,236.8 L508.2,235.7 L508.8,237.9 L509.4,237.2 L510.0,237.5"/>
<path fill="none" stroke="#2020e8" stroke-opacity="0.9" stroke-width="1" stroke-linejoin="round" d="M40.4,237.8 L40.9,238.7 L41.5,238.3 L42.0,238.3 L42.5,239.4 L43.1,238.3 L43.6,239.4 L44.1,238.5 L44.7,239.7 L45.2,239.4 L45.7,239.9 L46.3,238.4 L46.8,238.9 L47.4,238.4 L47.9,238.9 L48.5,238.7 L49.0,237.9 L49.5,237.3 L50.0,237.4 L50.5,237.5 L51.1,237.8 L51.6,237.5 L52.1,237.5 L52.6,238.5 L53.1,238.3 L53.6,237.8 L54.2,239.0 L54.7,237.8 L55.2,238.4 L55.7,237.8 L56.2,239.0 L56.7,239.0 L57.2,238.1 L57.8,239.0 L58.3,239.1 L58.8,238.3 L59.3,238.4 L59.8,238.7 L60.3,239.4 L60.9,238.3 L61.4,239.2 L61.9,239.1 L62.4,238.9 L62.9,239.1 L63.4,239.6 L63.9,238.5 L64.5,239.6 L65.0,238.8 L65.5,239.4 L66.0,239.6 L66.5,238.5 L67.0,239.6 L67.6,239.8 L68.1,238.7 L68.6,238.2 L69.1,238.4 L69.6,239.8 L70.1,238.2 L70.6,239.7 L71.2,238.4 L71.7,239.4 L72.2,238.4 L72.7,238.5 L73.2,239.3 L73.7,238.3 L74.3,238.7 L74.8,239.7 L75.3,239.3 L75.8,239.6 L76.3,239.8 L76.8,238.3 L77.3,238.6 L77.9,239.5 L78.4,239.3 L78.9,238.3 L79.4,239.0 L79.9,238.6 L80.4,238.9 L80.9,238.4 L81.4,238.2 L82.0,239.8 L82.5,238.7 L83.0,239.6 L83.5,238.4 L84.0,239.0 L84.5,238.4 L85.0,238.9 L85.6,238.5 L86.1,239.3 L86.6,238.4 L87.1,239.4 L87.6,239.0 L88.1,238.4 L88.6,238.8 L89.1,239.0 L89.7,239.7 L90.2,238.8 L90.7,238.5 L91.2,239.7 L91.7,239.4 L92.2,239.0 L92.8,238.1 L93.3,237.8 L93.8,237.8 L94.3,237.3 L94.8,237.1 L95.3,237.6 L95.9,237.3 L96.4,237.4 L96.9,236.9 L97.4,236.3 L97.9,237.3 L98.4,237.2 L99.0,237.0 L99.5,236.9 L100.0,237.1 L100.5,237.5 L101.0,237.3 L101.5,237.0 L102.1,236.4 L102.6,236.2 L103.1,236.3 L103.6,237.2 L104.1,236.2 L104.6,236.1 L105.1,236.1 L105.7,235.6 L106.2,236.9 L106.7,235.3 L107.2,236.2 L107.7,236.7 L108.2,235.5 L108.8,236.0 L109.3,235.6 L109.8,235.3 L110.3,235.2 L110.8,235.2 L111.3,236.6 L111.9,236.6 L112.4,237.0 L112.9,235.8 L113.4,237.0 L113.9,236.6 L114.4,237.2 L115.0,237.3 L115.5,237.0 L116.0,238.3 L116.5,236.7 L117.0,237.9 L117.5,238.1 L118.1,237.5 L118.6,237.6 L119.1,238.3 L119.6,237.1 L120.1,237.7 L120.6,237.9 L121.1,237.3 L121.6,237.8 L122.2,237.3 L122.7,237.5 L123.2,237.7 L123.7,237.8 L124.2,237.2 L124.7,237.7 L125.2,237.6 L125.8,237.1 L126.3,237.7 L126.8,237.1 L127.3,238.2 L127.8,237.5 L128.3,237.9 L128.8,237.5 L129.3,237.5 L129.9,237.1 L130.4,236.9 L130.9,238.2 L131.4,237.5 L131.9,237.5 L132.4,237.5 L132.9,238.0 L133.4,237.1 L133.9,237.0 L134.4,238.0 L134.9,237.4 L135.4,237.7 L136.0,238.0 L136.5,238.1 L137.0,238.1 L137.5,236.8 L138.0,237.3 L138.5,238.0 L139.0,238.0 L139.5,236.9 L140.0,236.9 L140.5,237.1 L141.0,236.9 L141.5,237.3 L142.0,238.0 L142.5,237.5 L143.0,237.4 L143.6,236.8 L144.1,237.3 L144.6,238.3 L145.1,237.8 L145.6,237.4 L146.1,237.5 L146.6,238.0 L147.1,237.9 L147.6,236.9 L148.1,237.8 L148.6,237.3 L149.1,237.5 L149.6,237.0 L150.1,237.2 L150.6,237.1 L151.1,237.2 L151.6,236.6 L152.1,236.9 L152.6,237.4 L153.1,236.6 L153.6,236.8 L154.1,237.6 L154.6,236.9 L155.1,237.0 L155.6,236.8 L156.1,237.7 L156.6,236.5 L157.1,237.4 L157.6,237.7 L158.1,236.7 L158.6,237.0 L159.1,237.6 L159.7,237.7 L160.3,237.7 L160.8,237.5 L161.4,238.5 L162.0,238.8 L162.5,239.3 L163.0,238.6 L163.5,238.7 L164.0,239.1 L164.5,239.3 L165.1,238.5 L165.6,238.5 L166.1,238.8 L166.6,239.3 L167.1,238.1 L167.6,239.3 L168.1,238.9 L168.6,238.3 L169.1,238.7 L169.6,238.1 L170.2,237.7 L170.7,238.7 L171.2,238.1 L171.7,238.3 L172.2,238.2 L172.7,238.8 L173.2,238.5 L173.7,237.3 L174.2,238.2 L174.7,237.9 L175.2,237.9 L175.8,238.4 L176.3,237.7 L176.8,237.8 L177.3,238.4 L177.8,237.6 L178.3,237.7 L178.8,237.5 L179.3,237.7 L179.8,237.2 L180.3,237.0 L180.8,236.2 L181.3,235.4 L181.8,236.2 L182.4,235.7 L182.9,235.8 L183.4,235.5 L183.9,234.2 L184.4,234.1 L184.9,233.6 L185.4,234.6 L185.9,233.2 L186.4,233.3 L187.0,234.6 L187.5,234.4 L188.0,233.8 L188.5,235.0 L189.1,235.2 L189.6,235.0 L190.1,234.5 L190.6,235.7 L191.2,235.4 L191.7,235.8 L192.2,236.5 L192.7,236.1 L193.3,236.2 L193.8,235.0 L194.3,235.2 L194.8,235.5 L195.3,234.6 L195.8,236.1 L196.4,234.9 L196.9,234.9 L197.4,234.9 L197.9,234.5 L198.5,235.2 L199.0,234.5 L199.5,234.1 L200.1,233.7 L200.6,232.8 L201.1,232.9 L201.7,233.6 L202.2,233.2 L202.7,233.9 L203.3,233.5 L203.8,234.0 L204.3,234.3 L204.9,235.7 L205.4,236.0 L205.9,236.8 L206.5,237.4 L207.0,238.1 L207.5,237.8 L208.0,238.5 L208.5,237.5 L209.0,238.6 L209.5,238.0 L210.0,237.2 L210.5,237.6 L211.0,237.9 L211.5,237.7 L212.1,237.9 L212.6,237.5 L213.1,237.4 L213.6,238.3 L214.1,237.4 L214.6,238.1 L215.1,238.2 L215.6,237.9 L216.1,237.6 L216.6,238.4 L217.1,237.6 L217.6,238.3 L218.1,236.9 L218.7,237.5 L219.2,237.8 L219.7,236.8 L220.2,238.1 L220.7,236.8 L221.2,237.6 L221.8,237.0 L222.3,238.1 L222.8,237.5 L223.3,237.9 L223.8,237.4 L224.3,237.6 L224.8,237.6 L225.4,237.0 L225.9,236.8 L226.4,237.8 L226.9,236.7 L227.4,237.9 L227.9,236.7 L228.5,236.5 L229.0,236.5 L229.5,237.6 L230.0,237.8 L230.5,236.6 L231.0,236.7 L231.6,235.7 L232.1,236.4 L232.6,235.7 L233.1,234.5 L233.6,234.0 L234.1,234.6 L234.7,233.3 L235.2,234.2 L235.7,233.0 L236.2,232.9 L236.7,233.5 L237.2,233.2 L237.7,233.6 L238.2,233.0 L238.7,234.3 L239.2,233.4 L239.7,234.3 L240.3,233.2 L240.8,234.3 L241.3,234.7 L241.8,233.8 L242.3,233.2 L242.8,233.8 L243.3,234.3 L243.8,233.7 L244.3,234.3 L244.8,233.8 L245.3,234.7 L245.8,235.4 L246.4,235.2 L246.9,235.8 L247.4,235.2 L247.9,236.6 L248.4,235.7 L248.9,237.3 L249.5,237.7 L250.0,237.9 L250.5,237.5 L251.0,237.4 L251.5,237.4 L252.0,238.1 L252.5,237.7 L253.0,238.3 L253.5,237.0 L254.0,237.6 L254.5,238.2 L255.0,237.8 L255.5,237.7 L256.0,236.9 L256.5,237.0 L257.0,237.2 L257.5,238.2 L258.0,238.1 L258.5,237.1 L259.0,238.2 L259.5,236.8 L260.0,237.7 L260.5,238.3 L261.0,237.2 L261.5,238.2 L262.0,237.7 L262.5,236.7 L263.0,237.2 L263.5,237.4 L264.0,237.0 L264.5,237.8 L265.0,236.9 L265.5,237.9 L266.1,237.1 L266.6,236.7 L267.1,237.5 L267.6,236.7 L268.1,237.4 L268.6,237.8 L269.1,237.5 L269.6,237.3 L270.1,236.6 L270.6,237.3 L271.1,236.6 L271.6,237.5 L272.1,236.7 L272.6,237.4 L273.1,237.0 L273.6,237.0 L274.1,237.5 L274.6,236.7 L275.1,236.7 L275.6,237.9 L276.1,236.9 L276.6,237.7 L277.1,237.8 L277.6,237.1 L278.1,236.6 L278.6,236.5 L279.1,237.7 L279.6,236.5 L280.1,237.1 L280.6,237.2 L281.1,236.5 L281.6,237.1 L282.1,236.6 L282.6,237.3 L283.1,237.2 L283.6,237.0 L284.1,236.8 L284.6,237.2 L285.2,236.9 L285.7,236.8 L286.2,237.0 L286.7,238.0 L287.2,237.4 L287.7,238.1 L288.2,236.7 L288.7,238.2 L289.2,237.5 L289.7,238.0 L290.2,237.7 L290.7,237.9 L291.2,237.2 L291.7,238.1 L292.2,237.2 L292.7,237.4 L293.2,237.0 L293.8,237.6 L294.3,237.8 L294.8,237.5 L295.3,238.5 L295.8,237.2 L296.3,238.0 L296.8,237.5 L297.3,238.1 L297.8,238.5 L298.3,238.3 L298.8,237.3 L299.3,237.6 L299.8,238.2 L300.3,238.8 L300.8,237.3 L301.3,238.2 L301.8,238.3 L302.3,238.5 L302.8,237.8 L303.3,238.5 L303.8,238.0 L304.3,238.7 L304.8,237.3 L305.3,238.8 L305.9,237.9 L306.4,237.9 L306.9,237.4 L307.4,237.7 L307.9,238.4 L308.4,238.4 L308.9,237.5 L309.4,237.8 L309.9,237.5 L310.4,237.6 L310.9,237.6 L311.4,237.8 L311.9,238.8 L312.4,238.9 L312.9,238.6 L313.4,238.1 L313.9,238.1 L314.4,238.5 L314.9,238.8 L315.4,238.5 L315.9,238.3 L316.4,237.6 L316.9,238.3 L317.4,238.7 L317.9,238.6 L318.4,237.5 L318.9,238.5 L319.4,237.9 L319.9,237.6 L320.4,238.9 L320.9,238.4 L321.4,238.5 L321.9,237.6 L322.5,238.7 L323.0,238.9 L323.5,238.8 L324.0,238.6 L324.5,238.7 L325.0,238.7 L325.5,238.3 L326.0,238.1 L326.5,238.7 L327.0,238.6 L327.5,238.8 L328.0,237.9 L328.5,238.9 L329.0,238.2 L329.5,238.9 L330.0,237.6 L330.5,239.0 L331.0,238.7 L331.5,237.8 L332.0,238.8 L332.5,237.8 L333.0,237.8 L333.5,238.2 L334.0,237.9 L334.5,238.3 L335.0,239.0 L335.5,238.6 L336.0,238.7 L336.5,238.2 L337.0,238.8 L337.5,238.8 L338.0,238.7 L338.5,239.1 L339.0,238.9 L339.5,238.2 L340.0,237.7 L340.5,238.7 L341.0,239.0 L341.5,238.2 L342.0,238.6 L342.5,239.0 L343.0,238.9 L343.5,237.7 L344.0,238.5 L344.5,237.7 L345.0,237.9 L345.5,239.0 L346.0,238.4 L346.5,238.7 L347.0,238.5 L347.5,238.3 L348.0,238.1 L348.5,238.3 L349.0,239.1 L349.5,238.8 L350.1,238.3 L350.6,238.0 L351.1,238.3 L351.6,239.0 L352.1,238.6 L352.6,238.9 L353.1,239.2 L353.6,238.1 L354.1,239.0 L354.6,238.0 L355.1,239.2 L355.6,238.2 L356.1,238.4 L356.6,239.5 L357.1,238.5 L357.6,238.3 L358.1,239.4 L358.6,239.0 L359.1,239.4 L359.6,238.6 L360.1,238.8 L360.6,239.5 L361.1,238.8 L361.6,239.6 L362.1,238.4 L362.6,239.4 L363.1,238.3 L363.6,238.9 L364.1,238.1 L364.6,238.4 L365.1,239.6 L365.6,238.8 L366.1,239.4 L366.6,238.5 L367.1,238.7 L367.6,238.3 L368.1,239.1 L368.6,239.6 L369.1,239.0 L369.6,238.8 L370.1,239.6 L370.6,239.5 L371.1,239.1 L371.6,238.1 L372.1,238.9 L372.6,238.5 L373.1,239.3 L373.7,238.2 L374.2,238.7 L374.7,238.5 L375.2,238.1 L375.7,238.2 L376.2,238.4 L376.7,238.7 L377.2,238.0 L377.7,237.9 L378.2,239.0 L378.7,237.6 L379.3,239.0 L379.8,238.8 L380.3,238.7 L380.8,238.7 L381.3,239.3 L381.8,239.6 L382.3,239.4 L382.8,239.6 L383.4,238.5 L383.9,239.1 L384.4,238.9 L384.9,240.3 L385.4,240.2 L385.9,239.0 L386.4,239.7 L386.9,239.7 L387.4,238.9 L387.9,239.4 L388.4,240.0 L388.9,239.8 L389.4,239.2 L389.9,240.0 L390.4,239.3 L390.9,239.7 L391.4,239.5 L391.9,240.4 L392.4,239.8 L392.9,240.1 L393.4,239.9 L393.9,239.4 L394.4,240.3 L394.9,239.9 L395.4,239.9 L395.9,239.2 L396.4,239.1 L396.9,239.7 L397.4,240.1 L397.9,240.1 L398.4,239.4 L398.9,239.0 L399.4,239.6 L399.9,240.2 L400.5,239.1 L401.0,240.0 L401.5,239.1 L402.0,239.3 L402.5,238.9 L403.0,239.3 L403.5,239.4 L404.0,240.3 L404.5,240.3 L405.0,239.1 L405.5,239.3 L406.0,240.3 L406.5,239.1 L407.0,239.3 L407.5,239.5 L408.0,239.0 L408.5,239.2 L409.0,239.4 L409.5,239.4 L410.0,240.3 L410.5,239.2 L411.0,239.1 L411.5,240.3 L412.0,239.5 L412.5,240.1 L413.0,239.8 L413.5,240.0 L414.0,239.3 L414.5,239.0 L415.0,240.0 L415.5,239.6 L416.0,239.6 L416.5,239.7 L417.1,239.7 L417.6,238.8 L418.1,238.8 L418.6,239.6 L419.1,238.9 L419.6,238.4 L420.2,238.8 L420.7,238.1 L421.2,238.8 L421.7,237.7 L422.2,239.0 L422.7,238.6 L423.2,238.3 L423.7,239.2 L424.2,238.2 L424.7,238.2 L425.2,237.9 L425.7,238.7 L426.2,239.1 L426.7,239.0 L427.2,238.6 L427.7,239.2 L428.2,238.1 L428.7,238.5 L429.2,239.0 L429.7,239.6 L430.2,239.1 L430.7,239.2 L431.2,239.4 L431.7,238.8 L432.2,239.7 L432.7,239.4 L433.2,238.7 L433.7,238.8 L434.2,239.5 L434.7,238.8 L435.2,238.5 L435.7,239.6 L436.2,239.1 L436.7,239.0 L437.2,239.3 L437.8,239.6 L438.3,238.4 L438.8,238.7 L439.3,238.3 L439.8,238.9 L440.3,239.0 L440.8,239.6 L441.3,239.3 L441.8,239.1 L442.3,238.8 L442.8,239.1 L443.3,238.6 L443.8,239.6 L444.3,239.5 L444.8,239.5 L445.3,238.4 L445.8,239.3 L446.3,239.4 L446.8,239.0 L447.4,239.6 L447.9,239.6 L448.4,239.4 L448.9,239.5 L449.4,239.2 L449.9,239.6 L450.4,238.4 L450.9,239.3 L451.4,239.3 L451.9,239.2 L452.4,238.6 L452.9,238.2 L453.5,239.0 L454.0,239.3 L454.5,238.4 L455.0,238.3 L455.5,238.2 L456.0,238.0 L456.6,238.9 L457.1,239.3 L457.6,239.0 L458.1,238.2 L458.6,238.7 L459.2,237.7 L459.7,238.9 L460.2,238.0 L460.7,237.4 L461.2,238.4 L461.7,237.6 L462.3,237.7 L462.8,237.3 L463.3,237.9 L463.8,238.0 L464.3,238.4 L464.8,237.1 L465.3,238.3 L465.8,237.1 L466.3,237.2 L466.8,237.8 L467.3,237.2 L467.8,237.1 L468.3,237.5 L468.8,236.8 L469.3,237.7 L469.8,236.7 L470.3,237.6 L470.8,237.5 L471.3,237.0 L471.8,236.1 L472.3,237.3 L472.8,236.0 L473.3,236.7 L473.8,236.5 L474.3,235.9 L474.8,236.7 L475.3,237.0 L475.9,237.0 L476.4,236.8 L476.9,237.2 L477.5,237.5 L478.0,237.1 L478.5,238.3 L479.1,238.6 L479.6,238.5 L480.1,238.7 L480.6,237.7 L481.1,238.8 L481.7,237.3 L482.2,238.0 L482.7,237.5 L483.2,238.0 L483.7,238.3 L484.2,238.4 L484.7,238.0 L485.2,237.8 L485.8,237.6 L486.3,237.9 L486.8,237.7 L487.3,237.6 L487.8,238.5 L488.3,238.1 L488.8,238.0 L489.4,237.6 L489.9,238.5 L490.4,237.7 L490.9,237.8 L491.4,238.2 L491.9,238.5 L492.4,238.9 L492.9,238.6 L493.5,238.9 L494.0,238.9 L494.5,238.5 L495.0,238.6 L495.5,237.5 L496.0,237.7 L496.5,237.4 L497.0,238.7 L497.5,238.5 L498.0,238.3 L498.5,237.7 L499.0,237.8 L499.5,237.5 L500.0,238.2 L500.5,238.8 L501.0,237.6 L501.6,237.2 L502.1,237.4 L502.6,237.7 L503.1,238.5 L503.6,238.3 L504.1,237.8 L504.6,237.2 L505.1,237.2 L505.6,237.2 L506.1,238.2 L506.6,237.7 L507.1,238.5 L507.6,238.4 L508.2,238.1 L508.8,237.6 L509.4,238.1 L510.0,237.5"/>
<path fill="none" stroke="#2020e8" stroke-opacity="0.4" stroke-width="0.9" stroke-linejoin="round" d="M510.4,232.3 L510.9,232.2 L511.4,233.8 L511.9,234.2 L512.4,232.9 L513.0,233.2 L513.5,232.2 L514.0,232.6 L514.5,233.5 L515.0,234.3"/>
<path fill="none" stroke="#2020e8" stroke-opacity="0.9" stroke-width="1" stroke-linejoin="round" d="M510.4,234.4 L510.9,234.5 L511.4,233.7 L511.9,234.3 L512.4,233.8 L513.0,234.5 L513.5,234.6 L514.0,233.6 L514.5,233.5 L515.0,234.3"/>
<path fill="none" stroke="#2020e8" stroke-opacity="0.4" stroke-width="0.9" stroke-linejoin="round" d="M515.4,237.7 L515.9,238.6 L516.4,238.4 L516.9,236.7 L517.4,237.4 L517.9,237.6 L518.4,238.7 L518.9,236.8 L519.4,237.1 L520.0,238.7 L520.5,236.8 L521.0,238.0 L521.5,238.2 L522.0,237.0 L522.5,238.7 L523.0,238.1 L523.5,237.4 L524.0,237.5 L524.5,236.8 L525.0,238.2 L525.5,236.9 L526.0,238.3 L526.5,236.9 L527.0,237.3 L527.5,238.4 L528.0,238.2 L528.6,238.0 L529.1,237.6 L529.6,238.3 L530.1,236.5 L530.6,237.5 L531.1,236.5 L531.6,238.4 L532.1,238.0 L532.6,237.7 L533.1,237.5 L533.6,237.2 L534.1,237.7 L534.6,237.5 L535.2,238.2 L535.7,236.7 L536.2,236.4 L536.7,237.8 L537.2,236.2 L537.7,237.0 L538.2,236.0 L538.7,236.9 L539.3,237.7 L539.8,236.8 L540.3,236.6 L540.8,237.5 L541.3,237.0 L541.8,235.9 L542.3,236.2 L542.8,235.8 L543.3,236.6 L543.9,235.8 L544.4,235.8 L544.9,236.7 L545.4,235.9 L545.9,236.6 L546.4,237.1 L546.9,235.8 L547.4,237.2 L548.0,235.8 L548.5,236.7 L549.0,236.1 L549.5,235.5 L550.0,236.5 L550.5,235.7 L551.0,235.3 L551.5,236.4 L552.0,235.8 L552.5,235.7 L553.0,235.4 L553.5,236.8 L554.1,234.9 L554.6,235.3 L555.1,234.7 L555.6,234.5 L556.1,234.0 L556.6,234.6 L557.1,235.9 L557.6,234.5 L558.1,236.0 L558.6,235.5 L559.2,235.6 L559.7,234.7 L560.2,234.2 L560.7,234.1 L561.2,236.0 L561.7,235.3 L562.3,235.8 L562.8,234.0 L563.3,235.2 L563.8,234.1 L564.3,234.8 L564.8,235.0 L565.4,236.2 L565.9,234.7 L566.4,235.8 L567.0,231.8 L567.6,229.5 L568.1,227.9 L568.6,227.5 L569.1,229.5 L569.6,228.9 L570.1,227.7 L570.6,228.5 L571.1,227.9 L571.6,227.8 L572.1,227.6 L572.7,228.8 L573.2,228.4 L573.7,228.1 L574.2,227.6 L574.7,228.7 L575.2,227.0 L575.7,227.9 L576.2,226.8 L576.7,227.1 L577.2,227.2 L577.7,228.1 L578.2,228.3 L578.7,228.5 L579.2,228.2 L579.8,227.7 L580.3,227.4 L580.8,227.1 L581.3,225.6 L581.8,226.2 L582.4,225.7 L582.9,225.0 L583.4,225.1 L583.9,226.2"/>
<path fill="none" stroke="#2020e8" stroke-opacity="0.9" stroke-width="1" stroke-linejoin="round" d="M515.4,239.0 L515.9,237.9 L516.4,239.0 L516.9,239.2 L517.4,238.5 L517.9,239.2 L518.4,238.1 L518.9,239.3 L519.4,238.5 L520.0,238.9 L520.5,238.2 L521.0,238.2 L521.5,238.3 L522.0,238.2 L522.5,237.8 L523.0,238.4 L523.5,239.2 L524.0,238.7 L524.5,239.1 L525.0,238.8 L525.5,238.9 L526.0,239.2 L526.5,238.8 L527.0,238.0 L527.5,237.9 L528.0,238.2 L528.6,237.6 L529.1,237.9 L529.6,238.9 L530.1,238.9 L530.6,238.0 L531.1,238.7 L531.6,238.7 L532.1,238.8 L532.6,238.7 L533.1,238.2 L533.6,237.5 L534.1,238.7 L534.6,237.8 L535.2,238.3 L535.7,237.8 L536.2,238.1 L536.7,238.8 L537.2,237.4 L537.7,238.0 L538.2,238.2 L538.7,238.0 L539.3,238.6 L539.8,237.7 L540.3,238.5 L540.8,238.1 L541.3,238.5 L541.8,237.1 L542.3,237.3 L542.8,237.4 L543.3,238.4 L543.9,236.9 L544.4,237.3 L544.9,238.0 L545.4,238.4 L545.9,237.1 L546.4,237.5 L546.9,237.8 L547.4,237.8 L548.0,237.9 L548.5,237.9 L549.0,237.0 L549.5,237.0 L550.0,236.6 L550.5,237.6 L551.0,236.7 L551.5,236.7 L552.0,237.7 L552.5,237.1 L553.0,236.9 L553.5,236.9 L554.1,236.6 L554.6,236.7 L555.1,236.0 L555.6,235.5 L556.1,235.3 L556.6,235.1 L557.1,235.6 L557.6,235.1 L558.1,235.1 L558.6,235.7 L559.2,236.5 L559.7,236.1 L560.2,235.5 L560.7,236.3 L561.2,235.4 L561.7,235.3 L562.3,235.6 L562.8,235.8 L563.3,236.3 L563.8,236.0 L564.3,236.4 L564.8,235.5 L565.4,236.8 L565.9,235.9 L566.4,236.7 L567.0,232.1 L567.6,230.0 L568.1,229.0 L568.6,230.0 L569.1,229.9 L569.6,229.6 L570.1,228.9 L570.6,228.5 L571.1,228.7 L571.6,229.8 L572.1,228.6 L572.7,229.4 L573.2,229.2 L573.7,229.3 L574.2,228.5 L574.7,228.4 L575.2,228.3 L575.7,229.6 L576.2,228.6 L576.7,229.0 L577.2,228.9 L577.7,228.3 L578.2,227.8 L578.7,227.5 L579.2,228.6 L579.8,227.3 L580.3,228.4 L580.8,227.2 L581.3,227.6 L581.8,226.5 L582.4,227.3 L582.9,226.2 L583.4,226.2 L583.9,226.2"/>
<path fill="none" stroke="#2020e8" stroke-opacity="0.4" stroke-width="0.9" stroke-linejoin="round" d="M584.7,237.9 L585.2,236.4 L585.7,237.2 L586.2,237.2 L586.7,237.8 L587.2,238.4 L587.7,238.0 L588.2,237.9 L588.7,237.7 L589.2,237.7 L589.8,238.5 L590.3,238.3 L590.8,238.2 L591.3,238.7 L591.8,237.1 L592.3,236.6 L592.8,237.9 L593.3,237.1 L593.9,237.4 L594.4,236.3 L594.9,238.2 L595.4,236.7 L595.9,238.2 L596.4,237.4 L596.9,236.4 L597.4,236.5 L598.0,238.1 L598.5,236.6 L599.0,236.8 L599.5,237.8 L600.0,236.2 L600.5,236.0 L601.0,237.4 L601.5,237.9 L602.0,236.0 L602.5,237.7 L603.0,236.0 L603.5,236.7 L604.0,236.9 L604.5,237.7 L605.0,236.3 L605.5,235.8 L606.0,236.3 L606.5,236.2 L607.0,235.9 L607.5,237.9 L608.0,236.8 L608.5,236.5 L609.0,236.3 L609.5,236.7 L610.0,236.0 L610.5,236.9 L611.0,236.0 L611.5,237.8 L612.0,236.9 L612.5,236.0 L613.0,237.8 L613.5,237.1 L614.0,236.6 L614.5,237.2 L615.0,237.4 L615.5,236.2 L616.0,235.7 L616.5,237.9 L617.0,236.5 L617.5,235.7 L618.0,237.3 L618.5,237.9 L619.0,237.7"/>
<path fill="none" stroke="#2020e8" stroke-opacity="0.9" stroke-width="1" stroke-linejoin="round" d="M584.7,236.9 L585.2,237.9 L585.7,238.5 L586.2,238.4 L586.7,238.1 L587.2,238.7 L587.7,239.1 L588.2,239.1 L588.7,238.2 L589.2,239.2 L589.8,239.4 L590.3,239.0 L590.8,239.2 L591.3,238.3 L591.8,239.1 L592.3,237.9 L592.8,238.0 L593.3,238.5 L593.9,238.9 L594.4,237.6 L594.9,237.7 L595.4,237.4 L595.9,238.0 L596.4,237.5 L596.9,237.5 L597.4,238.3 L598.0,238.0 L598.5,238.6 L599.0,237.6 L599.5,238.0 L600.0,236.9 L600.5,238.4 L601.0,237.3 L601.5,237.7 L602.0,237.7 L602.5,238.4 L603.0,237.7 L603.5,238.5 L604.0,237.9 L604.5,237.2 L605.0,238.2 L605.5,237.2 L606.0,238.5 L606.5,237.6 L607.0,237.3 L607.5,238.4 L608.0,237.4 L608.5,237.6 L609.0,237.4 L609.5,238.0 L610.0,236.9 L610.5,237.5 L611.0,237.2 L611.5,238.2 L612.0,236.9 L612.5,237.9 L613.0,237.3 L613.5,237.6 L614.0,237.8 L614.5,238.0 L615.0,237.1 L615.5,237.3 L616.0,237.1 L616.5,238.4 L617.0,237.1 L617.5,237.1 L618.0,237.7 L618.5,237.8 L619.0,237.7"/></svg>
<div class="t" style="left:30.00px;top:4.00px;transform-origin:0 0;transform:scaleX(0.8691);color:#000;font-size:13px;line-height:13px">PxScan version</div>
<div class="t" style="left:119.30px;top:4.00px;transform-origin:0 0;transform:scaleX(0.8276);color:#000;font-size:13px;line-height:13px">:</div>
<div class="t" style="left:130.20px;top:4.00px;transform-origin:0 0;transform:scaleX(0.8491);color:#000;font-size:13px;line-height:13px">PxScan v1.7.12, built Feb 24 2007 12:36:48</div>
<div class="t" style="left:30.00px;top:19.00px;transform-origin:0 0;transform:scaleX(0.8744);color:#000;font-size:13px;line-height:13px">Manufacturer ID</div>
<div class="t" style="left:119.30px;top:19.00px;transform-origin:0 0;transform:scaleX(0.8276);color:#000;font-size:13px;line-height:13px">:</div>
<div class="t" style="left:130.20px;top:19.00px;transform-origin:0 0;transform:scaleX(0.8355);color:#000;font-size:13px;line-height:13px">TTH02</div>
<div class="t" style="left:30.00px;top:34.00px;transform-origin:0 0;transform:scaleX(0.8855);color:#000;font-size:13px;line-height:13px">writer used</div>
<div class="t" style="left:119.30px;top:34.00px;transform-origin:0 0;transform:scaleX(0.8276);color:#000;font-size:13px;line-height:13px">:</div>
<div class="t" style="left:130.20px;top:34.00px;transform-origin:0 0;transform:scaleX(0.8958);color:#000;font-size:13px;line-height:13px">&lt;n/a&gt;</div>
<div class="t" style="left:30.00px;top:49.00px;transform-origin:0 0;transform:scaleX(0.9003);color:#000;font-size:13px;line-height:13px">disc capacity</div>
<div class="t" style="left:119.30px;top:49.00px;transform-origin:0 0;transform:scaleX(0.8276);color:#000;font-size:13px;line-height:13px">:</div>
<div class="t" style="left:30.00px;top:64.00px;transform-origin:0 0;transform:scaleX(0.8442);color:#000;font-size:13px;line-height:13px">scanned</div>
<div class="t" style="left:119.30px;top:64.00px;transform-origin:0 0;transform:scaleX(0.8276);color:#000;font-size:13px;line-height:13px">:</div>
<div class="t" style="left:130.20px;top:64.00px;transform-origin:0 0;transform:scaleX(0.8482);color:#000;font-size:13px;line-height:13px">PLEXTOR DVDR PX−716A 1.10 TLA: #0304 @ 2x</div>
<div class="t" style="left:30.00px;top:79.00px;transform-origin:0 0;transform:scaleX(0.8491);color:#000;font-size:13px;line-height:13px">comment</div>
<div class="t" style="left:119.30px;top:79.00px;transform-origin:0 0;transform:scaleX(0.8276);color:#000;font-size:13px;line-height:13px">:</div>
<div class="t" style="left:9.20px;top:99.00px;transform-origin:0 0;transform:scaleX(0.8432);color:#0000ff;font-size:13px;line-height:13px">500</div>
<div class="t" style="left:9.50px;top:115.00px;transform-origin:0 0;transform:scaleX(0.7299);color:#ff0000;font-size:13px;line-height:13px">15%</div>
<div class="t" style="left:9.50px;top:132.00px;transform-origin:0 0;transform:scaleX(0.7299);color:#ff0000;font-size:13px;line-height:13px">10%</div>
<div class="t" style="left:15.50px;top:149.00px;transform-origin:0 0;transform:scaleX(0.6916);color:#ff0000;font-size:13px;line-height:13px">5%</div>
<div class="t" style="left:9.50px;top:166.00px;transform-origin:0 0;transform:scaleX(0.8294);color:#0000ff;font-size:13px;line-height:13px">700</div>
<div class="t" style="left:9.80px;top:182.00px;transform-origin:0 0;transform:scaleX(0.7086);color:#ff0000;font-size:13px;line-height:13px">−5%</div>
<div class="t" style="left:3.60px;top:199.00px;transform-origin:0 0;transform:scaleX(0.7405);color:#ff0000;font-size:13px;line-height:13px">−10%</div>
<div class="t" style="left:3.60px;top:216.00px;transform-origin:0 0;transform:scaleX(0.7405);color:#ff0000;font-size:13px;line-height:13px">−15%</div>
<div class="t" style="left:9.20px;top:233.00px;transform-origin:0 0;transform:scaleX(0.8432);color:#0000ff;font-size:13px;line-height:13px">900</div>
<div class="t" style="left:107.30px;top:242.00px;transform-origin:0 0;transform:scaleX(0.8815);color:#000;font-size:13px;line-height:13px">128 MB</div>
<div class="t" style="left:300.10px;top:242.00px;transform-origin:0 0;transform:scaleX(0.8704);color:#000;font-size:13px;line-height:13px">1664 MB</div>
<div class="t" style="left:495.80px;top:242.00px;transform-origin:0 0;transform:scaleX(0.8838);color:#000;font-size:13px;line-height:13px">3712 MB</div>
<div class="t" style="left:30.00px;top:369.00px;transform-origin:0 0;transform:scaleX(0.8822);color:#ff0000;font-size:13px;line-height:13px">Beta</div>
<div class="t" style="left:119.50px;top:369.00px;transform-origin:0 0;transform:scaleX(0.7429);color:#ff0000;font-size:13px;line-height:13px">: 0.5% .. 16.1%</div>
<div class="t" style="left:29.80px;top:384.00px;transform-origin:0 0;transform:scaleX(0.9277);color:#000;font-size:13px;line-height:13px">TA Test Zone 1</div>
<div class="t" style="left:119.40px;top:384.00px;transform-origin:0 0;transform:scaleX(0.8714);color:#000;font-size:13px;line-height:13px">avg: 13.4 − 3T−11T/14T:</div>
<div class="t" style="left:246.00px;top:384.00px;transform-origin:0 0;transform:scaleX(0.8031);color:#000;font-size:13px;line-height:13px">14.7, 12.2, 12.2, 13.0, 13.6, 14.0, 14.3, 14.7, 13.9, 15.3</div>
<div class="t" style="left:29.80px;top:399.00px;transform-origin:0 0;transform:scaleX(0.9277);color:#000;font-size:13px;line-height:13px">TA Test Zone 2</div>
<div class="t" style="left:119.40px;top:399.00px;transform-origin:0 0;transform:scaleX(0.8714);color:#000;font-size:13px;line-height:13px">avg: 14.5 − 3T−11T/14T:</div>
<div class="t" style="left:246.00px;top:399.00px;transform-origin:0 0;transform:scaleX(0.8031);color:#000;font-size:13px;line-height:13px">16.4, 13.2, 12.8, 14.0, 14.5, 14.3, 14.8, 14.9, 16.6, 15.1</div>
<div class="t" style="left:29.80px;top:414.00px;transform-origin:0 0;transform:scaleX(0.9277);color:#000;font-size:13px;line-height:13px">TA Test Zone 3</div>
<div class="t" style="left:119.40px;top:414.00px;transform-origin:0 0;transform:scaleX(0.8714);color:#000;font-size:13px;line-height:13px">avg: 14.0 − 3T−11T/14T:</div>
<div class="t" style="left:246.00px;top:414.00px;transform-origin:0 0;transform:scaleX(0.8031);color:#000;font-size:13px;line-height:13px">15.2, 12.9, 13.0, 13.9, 14.3, 14.5, 14.5, 14.6, 14.3, 12.4</div>
<div class="edge"></div>
</body></html>
